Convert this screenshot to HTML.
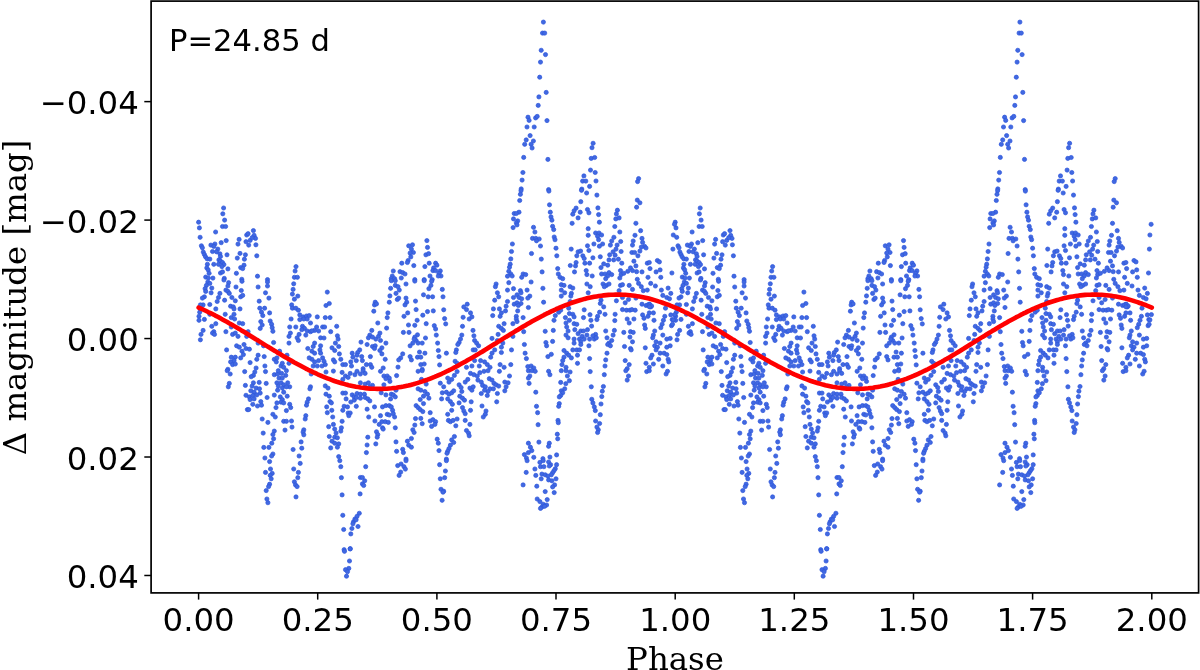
<!DOCTYPE html>
<html><head><meta charset="utf-8"><style>
html,body{margin:0;padding:0;background:#fff;}
body{width:1200px;height:670px;overflow:hidden;}
svg{display:block;}
</style></head><body>
<svg width="1200" height="670" viewBox="0 0 1200 670">
<rect width="1200" height="670" fill="#fff"/>
<g fill="#4169e1" stroke="#2d55db" stroke-width="0.7">
<circle cx="543.4" cy="22.1" r="2.10"/>
<circle cx="1019.9" cy="22.1" r="2.10"/>
<circle cx="542.5" cy="33.1" r="2.10"/>
<circle cx="1019.1" cy="33.1" r="2.10"/>
<circle cx="544.7" cy="33.1" r="2.10"/>
<circle cx="1021.3" cy="33.1" r="2.10"/>
<circle cx="541.2" cy="50.3" r="2.10"/>
<circle cx="1017.8" cy="50.3" r="2.10"/>
<circle cx="545.5" cy="54.6" r="2.10"/>
<circle cx="1022.1" cy="54.6" r="2.10"/>
<circle cx="540.5" cy="62.1" r="2.10"/>
<circle cx="1017.1" cy="62.1" r="2.10"/>
<circle cx="539.7" cy="77.2" r="2.10"/>
<circle cx="1016.3" cy="77.2" r="2.10"/>
<circle cx="546.2" cy="92.4" r="2.10"/>
<circle cx="1022.8" cy="92.4" r="2.10"/>
<circle cx="538.9" cy="96.9" r="2.10"/>
<circle cx="1015.5" cy="96.9" r="2.10"/>
<circle cx="538.2" cy="105.4" r="2.10"/>
<circle cx="1014.8" cy="105.4" r="2.10"/>
<circle cx="528.0" cy="117.2" r="2.10"/>
<circle cx="1004.6" cy="117.2" r="2.10"/>
<circle cx="529.1" cy="120.4" r="2.10"/>
<circle cx="1005.7" cy="120.4" r="2.10"/>
<circle cx="535.6" cy="117.9" r="2.10"/>
<circle cx="1012.1" cy="117.9" r="2.10"/>
<circle cx="537.2" cy="116.4" r="2.10"/>
<circle cx="1013.8" cy="116.4" r="2.10"/>
<circle cx="547.0" cy="120.6" r="2.10"/>
<circle cx="1023.6" cy="120.6" r="2.10"/>
<circle cx="527.0" cy="127.0" r="2.10"/>
<circle cx="1003.5" cy="127.0" r="2.10"/>
<circle cx="534.2" cy="127.0" r="2.10"/>
<circle cx="1010.8" cy="127.0" r="2.10"/>
<circle cx="530.1" cy="135.6" r="2.10"/>
<circle cx="1006.6" cy="135.6" r="2.10"/>
<circle cx="526.2" cy="139.9" r="2.10"/>
<circle cx="1002.7" cy="139.9" r="2.10"/>
<circle cx="533.4" cy="141.0" r="2.10"/>
<circle cx="1010.0" cy="141.0" r="2.10"/>
<circle cx="524.7" cy="144.3" r="2.10"/>
<circle cx="1001.3" cy="144.3" r="2.10"/>
<circle cx="531.1" cy="144.3" r="2.10"/>
<circle cx="1007.7" cy="144.3" r="2.10"/>
<circle cx="532.1" cy="148.0" r="2.10"/>
<circle cx="1008.6" cy="148.0" r="2.10"/>
<circle cx="523.7" cy="157.4" r="2.10"/>
<circle cx="1000.3" cy="157.4" r="2.10"/>
<circle cx="547.9" cy="159.4" r="2.10"/>
<circle cx="1024.5" cy="159.4" r="2.10"/>
<circle cx="522.9" cy="172.5" r="2.10"/>
<circle cx="999.5" cy="172.5" r="2.10"/>
<circle cx="522.1" cy="180.1" r="2.10"/>
<circle cx="998.7" cy="180.1" r="2.10"/>
<circle cx="521.2" cy="188.9" r="2.10"/>
<circle cx="997.8" cy="188.9" r="2.10"/>
<circle cx="548.6" cy="189.6" r="2.10"/>
<circle cx="1025.2" cy="189.6" r="2.10"/>
<circle cx="593.1" cy="143.3" r="2.10"/>
<circle cx="1069.6" cy="143.3" r="2.10"/>
<circle cx="592.0" cy="147.7" r="2.10"/>
<circle cx="1068.6" cy="147.7" r="2.10"/>
<circle cx="591.2" cy="158.4" r="2.10"/>
<circle cx="1067.8" cy="158.4" r="2.10"/>
<circle cx="594.7" cy="157.5" r="2.10"/>
<circle cx="1071.2" cy="157.5" r="2.10"/>
<circle cx="590.5" cy="170.1" r="2.10"/>
<circle cx="1067.1" cy="170.1" r="2.10"/>
<circle cx="595.2" cy="172.5" r="2.10"/>
<circle cx="1071.8" cy="172.5" r="2.10"/>
<circle cx="583.9" cy="175.9" r="2.10"/>
<circle cx="1060.5" cy="175.9" r="2.10"/>
<circle cx="582.6" cy="181.1" r="2.10"/>
<circle cx="1059.2" cy="181.1" r="2.10"/>
<circle cx="585.8" cy="181.1" r="2.10"/>
<circle cx="1062.4" cy="181.1" r="2.10"/>
<circle cx="596.0" cy="181.0" r="2.10"/>
<circle cx="1072.6" cy="181.0" r="2.10"/>
<circle cx="589.6" cy="186.4" r="2.10"/>
<circle cx="1066.1" cy="186.4" r="2.10"/>
<circle cx="581.8" cy="189.1" r="2.10"/>
<circle cx="1058.4" cy="189.1" r="2.10"/>
<circle cx="198.6" cy="222.2" r="2.10"/>
<circle cx="675.2" cy="222.2" r="2.10"/>
<circle cx="199.4" cy="227.9" r="2.10"/>
<circle cx="676.0" cy="227.9" r="2.10"/>
<circle cx="200.1" cy="237.3" r="2.10"/>
<circle cx="676.7" cy="237.3" r="2.10"/>
<circle cx="201.4" cy="245.8" r="2.10"/>
<circle cx="678.0" cy="245.8" r="2.10"/>
<circle cx="202.4" cy="247.8" r="2.10"/>
<circle cx="679.0" cy="247.8" r="2.10"/>
<circle cx="203.3" cy="252.1" r="2.10"/>
<circle cx="679.9" cy="252.1" r="2.10"/>
<circle cx="204.4" cy="254.5" r="2.10"/>
<circle cx="681.0" cy="254.5" r="2.10"/>
<circle cx="205.5" cy="256.8" r="2.10"/>
<circle cx="682.1" cy="256.8" r="2.10"/>
<circle cx="207.1" cy="258.8" r="2.10"/>
<circle cx="683.7" cy="258.8" r="2.10"/>
<circle cx="209.8" cy="259.1" r="2.10"/>
<circle cx="686.4" cy="259.1" r="2.10"/>
<circle cx="207.4" cy="264.3" r="2.10"/>
<circle cx="683.9" cy="264.3" r="2.10"/>
<circle cx="206.8" cy="267.9" r="2.10"/>
<circle cx="683.4" cy="267.9" r="2.10"/>
<circle cx="208.2" cy="269.9" r="2.10"/>
<circle cx="684.7" cy="269.9" r="2.10"/>
<circle cx="209.1" cy="273.3" r="2.10"/>
<circle cx="685.7" cy="273.3" r="2.10"/>
<circle cx="205.7" cy="277.1" r="2.10"/>
<circle cx="682.3" cy="277.1" r="2.10"/>
<circle cx="208.4" cy="278.0" r="2.10"/>
<circle cx="685.0" cy="278.0" r="2.10"/>
<circle cx="212.9" cy="278.1" r="2.10"/>
<circle cx="689.4" cy="278.1" r="2.10"/>
<circle cx="223.6" cy="208.0" r="2.10"/>
<circle cx="700.2" cy="208.0" r="2.10"/>
<circle cx="222.8" cy="213.8" r="2.10"/>
<circle cx="699.4" cy="213.8" r="2.10"/>
<circle cx="224.6" cy="220.1" r="2.10"/>
<circle cx="701.1" cy="220.1" r="2.10"/>
<circle cx="222.5" cy="226.5" r="2.10"/>
<circle cx="699.1" cy="226.5" r="2.10"/>
<circle cx="225.6" cy="226.5" r="2.10"/>
<circle cx="702.2" cy="226.5" r="2.10"/>
<circle cx="215.6" cy="232.0" r="2.10"/>
<circle cx="692.1" cy="232.0" r="2.10"/>
<circle cx="221.2" cy="242.7" r="2.10"/>
<circle cx="697.8" cy="242.7" r="2.10"/>
<circle cx="226.2" cy="240.6" r="2.10"/>
<circle cx="702.7" cy="240.6" r="2.10"/>
<circle cx="210.9" cy="245.1" r="2.10"/>
<circle cx="687.4" cy="245.1" r="2.10"/>
<circle cx="214.9" cy="244.0" r="2.10"/>
<circle cx="691.5" cy="244.0" r="2.10"/>
<circle cx="213.8" cy="246.4" r="2.10"/>
<circle cx="690.4" cy="246.4" r="2.10"/>
<circle cx="217.8" cy="249.1" r="2.10"/>
<circle cx="694.4" cy="249.1" r="2.10"/>
<circle cx="212.5" cy="251.5" r="2.10"/>
<circle cx="689.0" cy="251.5" r="2.10"/>
<circle cx="216.5" cy="251.8" r="2.10"/>
<circle cx="693.1" cy="251.8" r="2.10"/>
<circle cx="219.9" cy="253.8" r="2.10"/>
<circle cx="696.4" cy="253.8" r="2.10"/>
<circle cx="220.5" cy="256.5" r="2.10"/>
<circle cx="697.1" cy="256.5" r="2.10"/>
<circle cx="218.9" cy="259.9" r="2.10"/>
<circle cx="695.5" cy="259.9" r="2.10"/>
<circle cx="220.5" cy="261.2" r="2.10"/>
<circle cx="697.1" cy="261.2" r="2.10"/>
<circle cx="222.5" cy="262.5" r="2.10"/>
<circle cx="699.1" cy="262.5" r="2.10"/>
<circle cx="223.9" cy="264.6" r="2.10"/>
<circle cx="700.5" cy="264.6" r="2.10"/>
<circle cx="213.8" cy="264.3" r="2.10"/>
<circle cx="690.4" cy="264.3" r="2.10"/>
<circle cx="218.5" cy="264.3" r="2.10"/>
<circle cx="695.1" cy="264.3" r="2.10"/>
<circle cx="221.9" cy="266.6" r="2.10"/>
<circle cx="698.4" cy="266.6" r="2.10"/>
<circle cx="227.9" cy="268.9" r="2.10"/>
<circle cx="704.5" cy="268.9" r="2.10"/>
<circle cx="220.5" cy="273.0" r="2.10"/>
<circle cx="697.1" cy="273.0" r="2.10"/>
<circle cx="222.5" cy="271.9" r="2.10"/>
<circle cx="699.1" cy="271.9" r="2.10"/>
<circle cx="224.3" cy="278.4" r="2.10"/>
<circle cx="700.9" cy="278.4" r="2.10"/>
<circle cx="227.0" cy="254.8" r="2.10"/>
<circle cx="703.6" cy="254.8" r="2.10"/>
<circle cx="239.1" cy="239.4" r="2.10"/>
<circle cx="715.6" cy="239.4" r="2.10"/>
<circle cx="238.0" cy="244.1" r="2.10"/>
<circle cx="714.6" cy="244.1" r="2.10"/>
<circle cx="240.0" cy="253.4" r="2.10"/>
<circle cx="716.6" cy="253.4" r="2.10"/>
<circle cx="237.3" cy="258.1" r="2.10"/>
<circle cx="713.9" cy="258.1" r="2.10"/>
<circle cx="245.4" cy="254.8" r="2.10"/>
<circle cx="722.0" cy="254.8" r="2.10"/>
<circle cx="244.4" cy="259.2" r="2.10"/>
<circle cx="721.0" cy="259.2" r="2.10"/>
<circle cx="244.0" cy="265.2" r="2.10"/>
<circle cx="720.6" cy="265.2" r="2.10"/>
<circle cx="240.7" cy="267.6" r="2.10"/>
<circle cx="717.3" cy="267.6" r="2.10"/>
<circle cx="242.7" cy="268.6" r="2.10"/>
<circle cx="719.3" cy="268.6" r="2.10"/>
<circle cx="236.4" cy="273.3" r="2.10"/>
<circle cx="713.0" cy="273.3" r="2.10"/>
<circle cx="241.8" cy="279.3" r="2.10"/>
<circle cx="718.3" cy="279.3" r="2.10"/>
<circle cx="246.7" cy="235.0" r="2.10"/>
<circle cx="723.3" cy="235.0" r="2.10"/>
<circle cx="248.1" cy="233.7" r="2.10"/>
<circle cx="724.6" cy="233.7" r="2.10"/>
<circle cx="253.4" cy="230.6" r="2.10"/>
<circle cx="730.0" cy="230.6" r="2.10"/>
<circle cx="254.1" cy="235.4" r="2.10"/>
<circle cx="730.7" cy="235.4" r="2.10"/>
<circle cx="255.5" cy="238.4" r="2.10"/>
<circle cx="732.0" cy="238.4" r="2.10"/>
<circle cx="246.0" cy="241.7" r="2.10"/>
<circle cx="722.6" cy="241.7" r="2.10"/>
<circle cx="248.7" cy="245.1" r="2.10"/>
<circle cx="725.3" cy="245.1" r="2.10"/>
<circle cx="250.1" cy="240.4" r="2.10"/>
<circle cx="726.7" cy="240.4" r="2.10"/>
<circle cx="252.1" cy="237.7" r="2.10"/>
<circle cx="728.7" cy="237.7" r="2.10"/>
<circle cx="255.9" cy="244.8" r="2.10"/>
<circle cx="732.4" cy="244.8" r="2.10"/>
<circle cx="256.8" cy="255.8" r="2.10"/>
<circle cx="733.4" cy="255.8" r="2.10"/>
<circle cx="257.5" cy="276.2" r="2.10"/>
<circle cx="734.0" cy="276.2" r="2.10"/>
<circle cx="267.5" cy="279.6" r="2.10"/>
<circle cx="744.1" cy="279.6" r="2.10"/>
<circle cx="296.0" cy="266.6" r="2.10"/>
<circle cx="772.6" cy="266.6" r="2.10"/>
<circle cx="295.1" cy="271.0" r="2.10"/>
<circle cx="771.7" cy="271.0" r="2.10"/>
<circle cx="294.4" cy="277.3" r="2.10"/>
<circle cx="771.0" cy="277.3" r="2.10"/>
<circle cx="297.4" cy="277.3" r="2.10"/>
<circle cx="773.9" cy="277.3" r="2.10"/>
<circle cx="408.7" cy="245.8" r="2.10"/>
<circle cx="885.3" cy="245.8" r="2.10"/>
<circle cx="412.5" cy="244.8" r="2.10"/>
<circle cx="889.1" cy="244.8" r="2.10"/>
<circle cx="411.4" cy="249.1" r="2.10"/>
<circle cx="888.0" cy="249.1" r="2.10"/>
<circle cx="413.4" cy="252.5" r="2.10"/>
<circle cx="890.0" cy="252.5" r="2.10"/>
<circle cx="410.1" cy="253.1" r="2.10"/>
<circle cx="886.7" cy="253.1" r="2.10"/>
<circle cx="410.8" cy="256.9" r="2.10"/>
<circle cx="887.3" cy="256.9" r="2.10"/>
<circle cx="408.1" cy="260.5" r="2.10"/>
<circle cx="884.6" cy="260.5" r="2.10"/>
<circle cx="407.4" cy="262.5" r="2.10"/>
<circle cx="884.0" cy="262.5" r="2.10"/>
<circle cx="401.8" cy="263.2" r="2.10"/>
<circle cx="878.3" cy="263.2" r="2.10"/>
<circle cx="413.8" cy="265.6" r="2.10"/>
<circle cx="890.4" cy="265.6" r="2.10"/>
<circle cx="393.3" cy="271.0" r="2.10"/>
<circle cx="869.9" cy="271.0" r="2.10"/>
<circle cx="392.3" cy="276.0" r="2.10"/>
<circle cx="868.9" cy="276.0" r="2.10"/>
<circle cx="391.3" cy="278.7" r="2.10"/>
<circle cx="867.9" cy="278.7" r="2.10"/>
<circle cx="394.6" cy="278.7" r="2.10"/>
<circle cx="871.2" cy="278.7" r="2.10"/>
<circle cx="400.0" cy="271.7" r="2.10"/>
<circle cx="876.6" cy="271.7" r="2.10"/>
<circle cx="402.7" cy="272.6" r="2.10"/>
<circle cx="879.3" cy="272.6" r="2.10"/>
<circle cx="405.0" cy="274.0" r="2.10"/>
<circle cx="881.6" cy="274.0" r="2.10"/>
<circle cx="401.3" cy="278.0" r="2.10"/>
<circle cx="877.9" cy="278.0" r="2.10"/>
<circle cx="426.9" cy="240.6" r="2.10"/>
<circle cx="903.5" cy="240.6" r="2.10"/>
<circle cx="427.5" cy="247.4" r="2.10"/>
<circle cx="904.1" cy="247.4" r="2.10"/>
<circle cx="425.9" cy="254.8" r="2.10"/>
<circle cx="902.5" cy="254.8" r="2.10"/>
<circle cx="428.6" cy="253.7" r="2.10"/>
<circle cx="905.2" cy="253.7" r="2.10"/>
<circle cx="429.2" cy="263.2" r="2.10"/>
<circle cx="905.7" cy="263.2" r="2.10"/>
<circle cx="424.9" cy="266.6" r="2.10"/>
<circle cx="901.4" cy="266.6" r="2.10"/>
<circle cx="435.6" cy="263.2" r="2.10"/>
<circle cx="912.2" cy="263.2" r="2.10"/>
<circle cx="436.9" cy="265.2" r="2.10"/>
<circle cx="913.5" cy="265.2" r="2.10"/>
<circle cx="433.6" cy="267.9" r="2.10"/>
<circle cx="910.2" cy="267.9" r="2.10"/>
<circle cx="432.9" cy="270.6" r="2.10"/>
<circle cx="909.5" cy="270.6" r="2.10"/>
<circle cx="435.6" cy="270.6" r="2.10"/>
<circle cx="912.2" cy="270.6" r="2.10"/>
<circle cx="440.3" cy="270.9" r="2.10"/>
<circle cx="916.9" cy="270.9" r="2.10"/>
<circle cx="439.0" cy="273.3" r="2.10"/>
<circle cx="915.5" cy="273.3" r="2.10"/>
<circle cx="441.0" cy="276.0" r="2.10"/>
<circle cx="917.6" cy="276.0" r="2.10"/>
<circle cx="438.3" cy="276.0" r="2.10"/>
<circle cx="914.9" cy="276.0" r="2.10"/>
<circle cx="430.0" cy="276.0" r="2.10"/>
<circle cx="906.5" cy="276.0" r="2.10"/>
<circle cx="414.8" cy="279.6" r="2.10"/>
<circle cx="891.4" cy="279.6" r="2.10"/>
<circle cx="424.2" cy="279.6" r="2.10"/>
<circle cx="900.8" cy="279.6" r="2.10"/>
<circle cx="432.2" cy="279.6" r="2.10"/>
<circle cx="908.8" cy="279.6" r="2.10"/>
<circle cx="514.2" cy="213.5" r="2.10"/>
<circle cx="990.8" cy="213.5" r="2.10"/>
<circle cx="513.5" cy="218.9" r="2.10"/>
<circle cx="990.1" cy="218.9" r="2.10"/>
<circle cx="513.1" cy="227.6" r="2.10"/>
<circle cx="989.7" cy="227.6" r="2.10"/>
<circle cx="512.4" cy="244.0" r="2.10"/>
<circle cx="989.0" cy="244.0" r="2.10"/>
<circle cx="511.5" cy="251.5" r="2.10"/>
<circle cx="988.1" cy="251.5" r="2.10"/>
<circle cx="510.8" cy="258.9" r="2.10"/>
<circle cx="987.4" cy="258.9" r="2.10"/>
<circle cx="510.2" cy="264.2" r="2.10"/>
<circle cx="986.7" cy="264.2" r="2.10"/>
<circle cx="509.5" cy="267.2" r="2.10"/>
<circle cx="986.1" cy="267.2" r="2.10"/>
<circle cx="508.8" cy="271.3" r="2.10"/>
<circle cx="985.4" cy="271.3" r="2.10"/>
<circle cx="510.8" cy="274.0" r="2.10"/>
<circle cx="987.4" cy="274.0" r="2.10"/>
<circle cx="507.5" cy="276.2" r="2.10"/>
<circle cx="984.1" cy="276.2" r="2.10"/>
<circle cx="512.2" cy="276.0" r="2.10"/>
<circle cx="988.8" cy="276.0" r="2.10"/>
<circle cx="521.0" cy="190.7" r="2.10"/>
<circle cx="997.6" cy="190.7" r="2.10"/>
<circle cx="520.4" cy="194.3" r="2.10"/>
<circle cx="997.0" cy="194.3" r="2.10"/>
<circle cx="519.7" cy="200.5" r="2.10"/>
<circle cx="996.3" cy="200.5" r="2.10"/>
<circle cx="519.0" cy="212.2" r="2.10"/>
<circle cx="995.6" cy="212.2" r="2.10"/>
<circle cx="516.3" cy="213.5" r="2.10"/>
<circle cx="992.9" cy="213.5" r="2.10"/>
<circle cx="517.7" cy="220.9" r="2.10"/>
<circle cx="994.3" cy="220.9" r="2.10"/>
<circle cx="516.3" cy="222.9" r="2.10"/>
<circle cx="992.9" cy="222.9" r="2.10"/>
<circle cx="517.0" cy="224.9" r="2.10"/>
<circle cx="993.6" cy="224.9" r="2.10"/>
<circle cx="523.1" cy="274.0" r="2.10"/>
<circle cx="999.6" cy="274.0" r="2.10"/>
<circle cx="525.7" cy="274.6" r="2.10"/>
<circle cx="1002.3" cy="274.6" r="2.10"/>
<circle cx="521.7" cy="277.3" r="2.10"/>
<circle cx="998.3" cy="277.3" r="2.10"/>
<circle cx="533.5" cy="227.3" r="2.10"/>
<circle cx="1010.1" cy="227.3" r="2.10"/>
<circle cx="534.9" cy="232.0" r="2.10"/>
<circle cx="1011.5" cy="232.0" r="2.10"/>
<circle cx="532.5" cy="238.4" r="2.10"/>
<circle cx="1009.0" cy="238.4" r="2.10"/>
<circle cx="535.8" cy="238.4" r="2.10"/>
<circle cx="1012.4" cy="238.4" r="2.10"/>
<circle cx="539.2" cy="239.0" r="2.10"/>
<circle cx="1015.8" cy="239.0" r="2.10"/>
<circle cx="536.5" cy="240.8" r="2.10"/>
<circle cx="1013.1" cy="240.8" r="2.10"/>
<circle cx="540.5" cy="246.0" r="2.10"/>
<circle cx="1017.1" cy="246.0" r="2.10"/>
<circle cx="531.5" cy="253.5" r="2.10"/>
<circle cx="1008.1" cy="253.5" r="2.10"/>
<circle cx="541.3" cy="259.1" r="2.10"/>
<circle cx="1017.9" cy="259.1" r="2.10"/>
<circle cx="542.1" cy="271.9" r="2.10"/>
<circle cx="1018.7" cy="271.9" r="2.10"/>
<circle cx="548.9" cy="191.1" r="2.10"/>
<circle cx="1025.4" cy="191.1" r="2.10"/>
<circle cx="549.5" cy="204.8" r="2.10"/>
<circle cx="1026.1" cy="204.8" r="2.10"/>
<circle cx="550.3" cy="212.2" r="2.10"/>
<circle cx="1026.9" cy="212.2" r="2.10"/>
<circle cx="551.0" cy="216.9" r="2.10"/>
<circle cx="1027.6" cy="216.9" r="2.10"/>
<circle cx="551.9" cy="220.2" r="2.10"/>
<circle cx="1028.5" cy="220.2" r="2.10"/>
<circle cx="552.6" cy="226.3" r="2.10"/>
<circle cx="1029.2" cy="226.3" r="2.10"/>
<circle cx="553.7" cy="229.6" r="2.10"/>
<circle cx="1030.3" cy="229.6" r="2.10"/>
<circle cx="554.2" cy="237.0" r="2.10"/>
<circle cx="1030.8" cy="237.0" r="2.10"/>
<circle cx="555.0" cy="239.7" r="2.10"/>
<circle cx="1031.6" cy="239.7" r="2.10"/>
<circle cx="556.0" cy="248.2" r="2.10"/>
<circle cx="1032.6" cy="248.2" r="2.10"/>
<circle cx="556.8" cy="255.8" r="2.10"/>
<circle cx="1033.4" cy="255.8" r="2.10"/>
<circle cx="557.7" cy="268.6" r="2.10"/>
<circle cx="1034.3" cy="268.6" r="2.10"/>
<circle cx="558.3" cy="274.0" r="2.10"/>
<circle cx="1034.8" cy="274.0" r="2.10"/>
<circle cx="560.0" cy="277.3" r="2.10"/>
<circle cx="1036.6" cy="277.3" r="2.10"/>
<circle cx="562.7" cy="278.7" r="2.10"/>
<circle cx="1039.3" cy="278.7" r="2.10"/>
<circle cx="581.5" cy="190.3" r="2.10"/>
<circle cx="1058.1" cy="190.3" r="2.10"/>
<circle cx="586.6" cy="193.0" r="2.10"/>
<circle cx="1063.2" cy="193.0" r="2.10"/>
<circle cx="580.8" cy="201.7" r="2.10"/>
<circle cx="1057.4" cy="201.7" r="2.10"/>
<circle cx="576.1" cy="208.1" r="2.10"/>
<circle cx="1052.7" cy="208.1" r="2.10"/>
<circle cx="574.1" cy="210.8" r="2.10"/>
<circle cx="1050.7" cy="210.8" r="2.10"/>
<circle cx="572.8" cy="214.2" r="2.10"/>
<circle cx="1049.3" cy="214.2" r="2.10"/>
<circle cx="580.2" cy="212.2" r="2.10"/>
<circle cx="1056.7" cy="212.2" r="2.10"/>
<circle cx="578.1" cy="217.9" r="2.10"/>
<circle cx="1054.7" cy="217.9" r="2.10"/>
<circle cx="572.1" cy="223.3" r="2.10"/>
<circle cx="1048.7" cy="223.3" r="2.10"/>
<circle cx="587.5" cy="209.5" r="2.10"/>
<circle cx="1064.1" cy="209.5" r="2.10"/>
<circle cx="588.9" cy="212.8" r="2.10"/>
<circle cx="1065.5" cy="212.8" r="2.10"/>
<circle cx="588.2" cy="228.7" r="2.10"/>
<circle cx="1064.8" cy="228.7" r="2.10"/>
<circle cx="588.2" cy="235.3" r="2.10"/>
<circle cx="1064.8" cy="235.3" r="2.10"/>
<circle cx="587.5" cy="245.8" r="2.10"/>
<circle cx="1064.1" cy="245.8" r="2.10"/>
<circle cx="588.9" cy="250.5" r="2.10"/>
<circle cx="1065.5" cy="250.5" r="2.10"/>
<circle cx="571.2" cy="249.1" r="2.10"/>
<circle cx="1047.7" cy="249.1" r="2.10"/>
<circle cx="578.1" cy="251.8" r="2.10"/>
<circle cx="1054.7" cy="251.8" r="2.10"/>
<circle cx="580.6" cy="251.1" r="2.10"/>
<circle cx="1057.1" cy="251.1" r="2.10"/>
<circle cx="576.8" cy="255.8" r="2.10"/>
<circle cx="1053.4" cy="255.8" r="2.10"/>
<circle cx="582.8" cy="255.8" r="2.10"/>
<circle cx="1059.4" cy="255.8" r="2.10"/>
<circle cx="584.2" cy="258.5" r="2.10"/>
<circle cx="1060.8" cy="258.5" r="2.10"/>
<circle cx="592.9" cy="257.8" r="2.10"/>
<circle cx="1069.5" cy="257.8" r="2.10"/>
<circle cx="570.3" cy="265.5" r="2.10"/>
<circle cx="1046.9" cy="265.5" r="2.10"/>
<circle cx="576.1" cy="262.5" r="2.10"/>
<circle cx="1052.7" cy="262.5" r="2.10"/>
<circle cx="575.5" cy="265.9" r="2.10"/>
<circle cx="1052.0" cy="265.9" r="2.10"/>
<circle cx="584.9" cy="263.2" r="2.10"/>
<circle cx="1061.4" cy="263.2" r="2.10"/>
<circle cx="589.6" cy="263.2" r="2.10"/>
<circle cx="1066.1" cy="263.2" r="2.10"/>
<circle cx="574.5" cy="271.9" r="2.10"/>
<circle cx="1051.1" cy="271.9" r="2.10"/>
<circle cx="586.2" cy="270.6" r="2.10"/>
<circle cx="1062.8" cy="270.6" r="2.10"/>
<circle cx="586.9" cy="274.6" r="2.10"/>
<circle cx="1063.5" cy="274.6" r="2.10"/>
<circle cx="592.2" cy="276.0" r="2.10"/>
<circle cx="1068.8" cy="276.0" r="2.10"/>
<circle cx="596.9" cy="195.1" r="2.10"/>
<circle cx="1073.5" cy="195.1" r="2.10"/>
<circle cx="597.9" cy="207.9" r="2.10"/>
<circle cx="1074.5" cy="207.9" r="2.10"/>
<circle cx="598.6" cy="214.6" r="2.10"/>
<circle cx="1075.1" cy="214.6" r="2.10"/>
<circle cx="599.4" cy="222.2" r="2.10"/>
<circle cx="1075.9" cy="222.2" r="2.10"/>
<circle cx="595.6" cy="233.0" r="2.10"/>
<circle cx="1072.2" cy="233.0" r="2.10"/>
<circle cx="599.0" cy="233.0" r="2.10"/>
<circle cx="1075.5" cy="233.0" r="2.10"/>
<circle cx="601.6" cy="235.0" r="2.10"/>
<circle cx="1078.2" cy="235.0" r="2.10"/>
<circle cx="597.6" cy="236.3" r="2.10"/>
<circle cx="1074.2" cy="236.3" r="2.10"/>
<circle cx="598.6" cy="239.7" r="2.10"/>
<circle cx="1075.1" cy="239.7" r="2.10"/>
<circle cx="593.9" cy="244.0" r="2.10"/>
<circle cx="1070.4" cy="244.0" r="2.10"/>
<circle cx="602.6" cy="244.0" r="2.10"/>
<circle cx="1079.2" cy="244.0" r="2.10"/>
<circle cx="599.4" cy="246.2" r="2.10"/>
<circle cx="1075.9" cy="246.2" r="2.10"/>
<circle cx="600.3" cy="256.8" r="2.10"/>
<circle cx="1076.9" cy="256.8" r="2.10"/>
<circle cx="601.0" cy="267.6" r="2.10"/>
<circle cx="1077.6" cy="267.6" r="2.10"/>
<circle cx="603.7" cy="263.9" r="2.10"/>
<circle cx="1080.2" cy="263.9" r="2.10"/>
<circle cx="607.7" cy="265.2" r="2.10"/>
<circle cx="1084.3" cy="265.2" r="2.10"/>
<circle cx="601.6" cy="274.0" r="2.10"/>
<circle cx="1078.2" cy="274.0" r="2.10"/>
<circle cx="605.0" cy="274.0" r="2.10"/>
<circle cx="1081.6" cy="274.0" r="2.10"/>
<circle cx="609.0" cy="272.6" r="2.10"/>
<circle cx="1085.6" cy="272.6" r="2.10"/>
<circle cx="611.7" cy="274.6" r="2.10"/>
<circle cx="1088.3" cy="274.6" r="2.10"/>
<circle cx="607.7" cy="276.0" r="2.10"/>
<circle cx="1084.3" cy="276.0" r="2.10"/>
<circle cx="605.7" cy="278.7" r="2.10"/>
<circle cx="1082.3" cy="278.7" r="2.10"/>
<circle cx="617.4" cy="210.2" r="2.10"/>
<circle cx="1093.9" cy="210.2" r="2.10"/>
<circle cx="616.4" cy="213.9" r="2.10"/>
<circle cx="1093.0" cy="213.9" r="2.10"/>
<circle cx="615.8" cy="218.9" r="2.10"/>
<circle cx="1092.3" cy="218.9" r="2.10"/>
<circle cx="619.1" cy="217.9" r="2.10"/>
<circle cx="1095.7" cy="217.9" r="2.10"/>
<circle cx="614.8" cy="226.5" r="2.10"/>
<circle cx="1091.4" cy="226.5" r="2.10"/>
<circle cx="619.8" cy="232.0" r="2.10"/>
<circle cx="1096.4" cy="232.0" r="2.10"/>
<circle cx="613.9" cy="237.3" r="2.10"/>
<circle cx="1090.5" cy="237.3" r="2.10"/>
<circle cx="611.7" cy="241.0" r="2.10"/>
<circle cx="1088.3" cy="241.0" r="2.10"/>
<circle cx="610.4" cy="245.1" r="2.10"/>
<circle cx="1087.0" cy="245.1" r="2.10"/>
<circle cx="617.1" cy="245.1" r="2.10"/>
<circle cx="1093.7" cy="245.1" r="2.10"/>
<circle cx="616.0" cy="249.1" r="2.10"/>
<circle cx="1092.6" cy="249.1" r="2.10"/>
<circle cx="620.7" cy="241.5" r="2.10"/>
<circle cx="1097.3" cy="241.5" r="2.10"/>
<circle cx="609.7" cy="254.8" r="2.10"/>
<circle cx="1086.3" cy="254.8" r="2.10"/>
<circle cx="613.1" cy="251.8" r="2.10"/>
<circle cx="1089.6" cy="251.8" r="2.10"/>
<circle cx="621.1" cy="251.5" r="2.10"/>
<circle cx="1097.7" cy="251.5" r="2.10"/>
<circle cx="615.1" cy="255.2" r="2.10"/>
<circle cx="1091.7" cy="255.2" r="2.10"/>
<circle cx="613.7" cy="259.9" r="2.10"/>
<circle cx="1090.3" cy="259.9" r="2.10"/>
<circle cx="609.0" cy="259.9" r="2.10"/>
<circle cx="1085.6" cy="259.9" r="2.10"/>
<circle cx="618.4" cy="259.2" r="2.10"/>
<circle cx="1095.0" cy="259.2" r="2.10"/>
<circle cx="621.8" cy="263.2" r="2.10"/>
<circle cx="1098.4" cy="263.2" r="2.10"/>
<circle cx="620.5" cy="270.6" r="2.10"/>
<circle cx="1097.0" cy="270.6" r="2.10"/>
<circle cx="621.1" cy="274.6" r="2.10"/>
<circle cx="1097.7" cy="274.6" r="2.10"/>
<circle cx="623.8" cy="273.3" r="2.10"/>
<circle cx="1100.4" cy="273.3" r="2.10"/>
<circle cx="619.8" cy="278.0" r="2.10"/>
<circle cx="1096.4" cy="278.0" r="2.10"/>
<circle cx="637.3" cy="200.1" r="2.10"/>
<circle cx="1113.8" cy="200.1" r="2.10"/>
<circle cx="639.9" cy="202.8" r="2.10"/>
<circle cx="1116.5" cy="202.8" r="2.10"/>
<circle cx="636.6" cy="207.2" r="2.10"/>
<circle cx="1113.2" cy="207.2" r="2.10"/>
<circle cx="635.9" cy="223.3" r="2.10"/>
<circle cx="1112.5" cy="223.3" r="2.10"/>
<circle cx="640.6" cy="230.7" r="2.10"/>
<circle cx="1117.2" cy="230.7" r="2.10"/>
<circle cx="635.0" cy="235.3" r="2.10"/>
<circle cx="1111.5" cy="235.3" r="2.10"/>
<circle cx="633.2" cy="241.0" r="2.10"/>
<circle cx="1109.8" cy="241.0" r="2.10"/>
<circle cx="632.5" cy="245.1" r="2.10"/>
<circle cx="1109.1" cy="245.1" r="2.10"/>
<circle cx="642.0" cy="238.4" r="2.10"/>
<circle cx="1118.5" cy="238.4" r="2.10"/>
<circle cx="642.6" cy="242.4" r="2.10"/>
<circle cx="1119.2" cy="242.4" r="2.10"/>
<circle cx="644.6" cy="246.4" r="2.10"/>
<circle cx="1121.2" cy="246.4" r="2.10"/>
<circle cx="646.0" cy="248.0" r="2.10"/>
<circle cx="1122.6" cy="248.0" r="2.10"/>
<circle cx="641.3" cy="247.1" r="2.10"/>
<circle cx="1117.9" cy="247.1" r="2.10"/>
<circle cx="639.9" cy="251.1" r="2.10"/>
<circle cx="1116.5" cy="251.1" r="2.10"/>
<circle cx="631.9" cy="252.5" r="2.10"/>
<circle cx="1108.5" cy="252.5" r="2.10"/>
<circle cx="634.6" cy="252.5" r="2.10"/>
<circle cx="1111.1" cy="252.5" r="2.10"/>
<circle cx="637.9" cy="255.8" r="2.10"/>
<circle cx="1114.5" cy="255.8" r="2.10"/>
<circle cx="633.9" cy="261.2" r="2.10"/>
<circle cx="1110.5" cy="261.2" r="2.10"/>
<circle cx="635.9" cy="265.9" r="2.10"/>
<circle cx="1112.5" cy="265.9" r="2.10"/>
<circle cx="630.5" cy="267.9" r="2.10"/>
<circle cx="1107.1" cy="267.9" r="2.10"/>
<circle cx="627.8" cy="271.3" r="2.10"/>
<circle cx="1104.4" cy="271.3" r="2.10"/>
<circle cx="632.5" cy="270.6" r="2.10"/>
<circle cx="1109.1" cy="270.6" r="2.10"/>
<circle cx="636.6" cy="271.7" r="2.10"/>
<circle cx="1113.2" cy="271.7" r="2.10"/>
<circle cx="642.0" cy="271.9" r="2.10"/>
<circle cx="1118.5" cy="271.9" r="2.10"/>
<circle cx="647.3" cy="263.2" r="2.10"/>
<circle cx="1123.9" cy="263.2" r="2.10"/>
<circle cx="649.3" cy="262.5" r="2.10"/>
<circle cx="1125.9" cy="262.5" r="2.10"/>
<circle cx="650.0" cy="268.6" r="2.10"/>
<circle cx="1126.6" cy="268.6" r="2.10"/>
<circle cx="648.0" cy="277.3" r="2.10"/>
<circle cx="1124.6" cy="277.3" r="2.10"/>
<circle cx="637.3" cy="279.3" r="2.10"/>
<circle cx="1113.8" cy="279.3" r="2.10"/>
<circle cx="657.4" cy="260.5" r="2.10"/>
<circle cx="1134.0" cy="260.5" r="2.10"/>
<circle cx="659.4" cy="261.9" r="2.10"/>
<circle cx="1136.0" cy="261.9" r="2.10"/>
<circle cx="656.1" cy="271.9" r="2.10"/>
<circle cx="1132.6" cy="271.9" r="2.10"/>
<circle cx="660.1" cy="269.9" r="2.10"/>
<circle cx="1136.7" cy="269.9" r="2.10"/>
<circle cx="660.8" cy="277.3" r="2.10"/>
<circle cx="1137.3" cy="277.3" r="2.10"/>
<circle cx="671.9" cy="273.0" r="2.10"/>
<circle cx="1148.5" cy="273.0" r="2.10"/>
<circle cx="672.9" cy="249.1" r="2.10"/>
<circle cx="1149.4" cy="249.1" r="2.10"/>
<circle cx="207.8" cy="282.0" r="2.10"/>
<circle cx="684.3" cy="282.0" r="2.10"/>
<circle cx="209.8" cy="283.4" r="2.10"/>
<circle cx="686.4" cy="283.4" r="2.10"/>
<circle cx="206.4" cy="285.4" r="2.10"/>
<circle cx="683.0" cy="285.4" r="2.10"/>
<circle cx="205.1" cy="288.7" r="2.10"/>
<circle cx="681.7" cy="288.7" r="2.10"/>
<circle cx="205.7" cy="291.4" r="2.10"/>
<circle cx="682.3" cy="291.4" r="2.10"/>
<circle cx="211.8" cy="288.1" r="2.10"/>
<circle cx="688.4" cy="288.1" r="2.10"/>
<circle cx="211.1" cy="292.8" r="2.10"/>
<circle cx="687.7" cy="292.8" r="2.10"/>
<circle cx="204.4" cy="296.8" r="2.10"/>
<circle cx="681.0" cy="296.8" r="2.10"/>
<circle cx="202.4" cy="298.1" r="2.10"/>
<circle cx="679.0" cy="298.1" r="2.10"/>
<circle cx="203.1" cy="304.9" r="2.10"/>
<circle cx="679.6" cy="304.9" r="2.10"/>
<circle cx="200.4" cy="304.9" r="2.10"/>
<circle cx="677.0" cy="304.9" r="2.10"/>
<circle cx="209.8" cy="304.5" r="2.10"/>
<circle cx="686.4" cy="304.5" r="2.10"/>
<circle cx="199.7" cy="312.2" r="2.10"/>
<circle cx="676.3" cy="312.2" r="2.10"/>
<circle cx="199.0" cy="316.3" r="2.10"/>
<circle cx="675.6" cy="316.3" r="2.10"/>
<circle cx="199.0" cy="320.3" r="2.10"/>
<circle cx="675.6" cy="320.3" r="2.10"/>
<circle cx="204.4" cy="319.4" r="2.10"/>
<circle cx="681.0" cy="319.4" r="2.10"/>
<circle cx="209.8" cy="314.3" r="2.10"/>
<circle cx="686.4" cy="314.3" r="2.10"/>
<circle cx="203.1" cy="330.4" r="2.10"/>
<circle cx="679.6" cy="330.4" r="2.10"/>
<circle cx="201.0" cy="334.4" r="2.10"/>
<circle cx="677.6" cy="334.4" r="2.10"/>
<circle cx="200.4" cy="339.8" r="2.10"/>
<circle cx="677.0" cy="339.8" r="2.10"/>
<circle cx="211.8" cy="326.3" r="2.10"/>
<circle cx="688.4" cy="326.3" r="2.10"/>
<circle cx="215.8" cy="323.7" r="2.10"/>
<circle cx="692.4" cy="323.7" r="2.10"/>
<circle cx="213.8" cy="331.7" r="2.10"/>
<circle cx="690.4" cy="331.7" r="2.10"/>
<circle cx="212.5" cy="333.1" r="2.10"/>
<circle cx="689.0" cy="333.1" r="2.10"/>
<circle cx="214.5" cy="334.4" r="2.10"/>
<circle cx="691.1" cy="334.4" r="2.10"/>
<circle cx="223.9" cy="280.0" r="2.10"/>
<circle cx="700.5" cy="280.0" r="2.10"/>
<circle cx="228.6" cy="282.7" r="2.10"/>
<circle cx="705.2" cy="282.7" r="2.10"/>
<circle cx="227.9" cy="286.0" r="2.10"/>
<circle cx="704.5" cy="286.0" r="2.10"/>
<circle cx="225.9" cy="290.1" r="2.10"/>
<circle cx="702.5" cy="290.1" r="2.10"/>
<circle cx="227.9" cy="291.4" r="2.10"/>
<circle cx="704.5" cy="291.4" r="2.10"/>
<circle cx="229.3" cy="293.4" r="2.10"/>
<circle cx="705.8" cy="293.4" r="2.10"/>
<circle cx="231.9" cy="297.5" r="2.10"/>
<circle cx="708.5" cy="297.5" r="2.10"/>
<circle cx="235.3" cy="300.8" r="2.10"/>
<circle cx="711.9" cy="300.8" r="2.10"/>
<circle cx="219.9" cy="293.4" r="2.10"/>
<circle cx="696.4" cy="293.4" r="2.10"/>
<circle cx="218.5" cy="297.5" r="2.10"/>
<circle cx="695.1" cy="297.5" r="2.10"/>
<circle cx="217.2" cy="301.5" r="2.10"/>
<circle cx="693.7" cy="301.5" r="2.10"/>
<circle cx="224.6" cy="300.2" r="2.10"/>
<circle cx="701.1" cy="300.2" r="2.10"/>
<circle cx="236.0" cy="287.0" r="2.10"/>
<circle cx="712.6" cy="287.0" r="2.10"/>
<circle cx="241.3" cy="290.5" r="2.10"/>
<circle cx="717.9" cy="290.5" r="2.10"/>
<circle cx="242.0" cy="281.3" r="2.10"/>
<circle cx="718.6" cy="281.3" r="2.10"/>
<circle cx="240.7" cy="296.8" r="2.10"/>
<circle cx="717.3" cy="296.8" r="2.10"/>
<circle cx="242.7" cy="295.4" r="2.10"/>
<circle cx="719.3" cy="295.4" r="2.10"/>
<circle cx="230.6" cy="306.2" r="2.10"/>
<circle cx="707.2" cy="306.2" r="2.10"/>
<circle cx="233.3" cy="306.9" r="2.10"/>
<circle cx="709.9" cy="306.9" r="2.10"/>
<circle cx="234.0" cy="308.9" r="2.10"/>
<circle cx="710.5" cy="308.9" r="2.10"/>
<circle cx="215.8" cy="308.9" r="2.10"/>
<circle cx="692.4" cy="308.9" r="2.10"/>
<circle cx="240.0" cy="308.9" r="2.10"/>
<circle cx="716.6" cy="308.9" r="2.10"/>
<circle cx="225.2" cy="314.3" r="2.10"/>
<circle cx="701.8" cy="314.3" r="2.10"/>
<circle cx="234.0" cy="314.3" r="2.10"/>
<circle cx="710.5" cy="314.3" r="2.10"/>
<circle cx="231.3" cy="317.6" r="2.10"/>
<circle cx="707.9" cy="317.6" r="2.10"/>
<circle cx="234.6" cy="319.0" r="2.10"/>
<circle cx="711.2" cy="319.0" r="2.10"/>
<circle cx="239.3" cy="323.0" r="2.10"/>
<circle cx="715.9" cy="323.0" r="2.10"/>
<circle cx="242.7" cy="323.7" r="2.10"/>
<circle cx="719.3" cy="323.7" r="2.10"/>
<circle cx="225.9" cy="331.7" r="2.10"/>
<circle cx="702.5" cy="331.7" r="2.10"/>
<circle cx="232.6" cy="334.4" r="2.10"/>
<circle cx="709.2" cy="334.4" r="2.10"/>
<circle cx="235.3" cy="333.1" r="2.10"/>
<circle cx="711.9" cy="333.1" r="2.10"/>
<circle cx="238.0" cy="336.4" r="2.10"/>
<circle cx="714.6" cy="336.4" r="2.10"/>
<circle cx="246.7" cy="336.4" r="2.10"/>
<circle cx="723.3" cy="336.4" r="2.10"/>
<circle cx="248.1" cy="331.7" r="2.10"/>
<circle cx="724.6" cy="331.7" r="2.10"/>
<circle cx="231.3" cy="327.0" r="2.10"/>
<circle cx="707.9" cy="327.0" r="2.10"/>
<circle cx="226.6" cy="349.9" r="2.10"/>
<circle cx="703.2" cy="349.9" r="2.10"/>
<circle cx="236.6" cy="345.8" r="2.10"/>
<circle cx="713.2" cy="345.8" r="2.10"/>
<circle cx="239.3" cy="347.2" r="2.10"/>
<circle cx="715.9" cy="347.2" r="2.10"/>
<circle cx="244.0" cy="344.5" r="2.10"/>
<circle cx="720.6" cy="344.5" r="2.10"/>
<circle cx="242.0" cy="351.2" r="2.10"/>
<circle cx="718.6" cy="351.2" r="2.10"/>
<circle cx="246.0" cy="348.5" r="2.10"/>
<circle cx="722.6" cy="348.5" r="2.10"/>
<circle cx="249.4" cy="349.2" r="2.10"/>
<circle cx="726.0" cy="349.2" r="2.10"/>
<circle cx="243.4" cy="354.6" r="2.10"/>
<circle cx="719.9" cy="354.6" r="2.10"/>
<circle cx="240.7" cy="357.9" r="2.10"/>
<circle cx="717.3" cy="357.9" r="2.10"/>
<circle cx="231.3" cy="357.2" r="2.10"/>
<circle cx="707.9" cy="357.2" r="2.10"/>
<circle cx="235.3" cy="357.2" r="2.10"/>
<circle cx="711.9" cy="357.2" r="2.10"/>
<circle cx="234.0" cy="360.6" r="2.10"/>
<circle cx="710.5" cy="360.6" r="2.10"/>
<circle cx="230.6" cy="361.9" r="2.10"/>
<circle cx="707.2" cy="361.9" r="2.10"/>
<circle cx="232.6" cy="364.6" r="2.10"/>
<circle cx="709.2" cy="364.6" r="2.10"/>
<circle cx="235.3" cy="364.0" r="2.10"/>
<circle cx="711.9" cy="364.0" r="2.10"/>
<circle cx="227.9" cy="369.3" r="2.10"/>
<circle cx="704.5" cy="369.3" r="2.10"/>
<circle cx="258.1" cy="287.0" r="2.10"/>
<circle cx="734.7" cy="287.0" r="2.10"/>
<circle cx="265.5" cy="292.8" r="2.10"/>
<circle cx="742.1" cy="292.8" r="2.10"/>
<circle cx="267.5" cy="282.0" r="2.10"/>
<circle cx="744.1" cy="282.0" r="2.10"/>
<circle cx="267.5" cy="286.0" r="2.10"/>
<circle cx="744.1" cy="286.0" r="2.10"/>
<circle cx="268.9" cy="298.1" r="2.10"/>
<circle cx="745.5" cy="298.1" r="2.10"/>
<circle cx="259.2" cy="301.2" r="2.10"/>
<circle cx="735.8" cy="301.2" r="2.10"/>
<circle cx="259.8" cy="308.2" r="2.10"/>
<circle cx="736.3" cy="308.2" r="2.10"/>
<circle cx="264.6" cy="308.2" r="2.10"/>
<circle cx="741.2" cy="308.2" r="2.10"/>
<circle cx="261.5" cy="312.2" r="2.10"/>
<circle cx="738.1" cy="312.2" r="2.10"/>
<circle cx="262.8" cy="315.6" r="2.10"/>
<circle cx="739.4" cy="315.6" r="2.10"/>
<circle cx="269.6" cy="312.9" r="2.10"/>
<circle cx="746.1" cy="312.9" r="2.10"/>
<circle cx="260.8" cy="321.6" r="2.10"/>
<circle cx="737.4" cy="321.6" r="2.10"/>
<circle cx="262.2" cy="325.0" r="2.10"/>
<circle cx="738.8" cy="325.0" r="2.10"/>
<circle cx="260.2" cy="328.4" r="2.10"/>
<circle cx="736.7" cy="328.4" r="2.10"/>
<circle cx="270.2" cy="321.0" r="2.10"/>
<circle cx="746.8" cy="321.0" r="2.10"/>
<circle cx="271.6" cy="324.3" r="2.10"/>
<circle cx="748.2" cy="324.3" r="2.10"/>
<circle cx="272.2" cy="327.7" r="2.10"/>
<circle cx="748.8" cy="327.7" r="2.10"/>
<circle cx="272.9" cy="331.3" r="2.10"/>
<circle cx="749.5" cy="331.3" r="2.10"/>
<circle cx="273.6" cy="342.5" r="2.10"/>
<circle cx="750.2" cy="342.5" r="2.10"/>
<circle cx="258.1" cy="343.1" r="2.10"/>
<circle cx="734.7" cy="343.1" r="2.10"/>
<circle cx="263.5" cy="345.8" r="2.10"/>
<circle cx="740.1" cy="345.8" r="2.10"/>
<circle cx="258.1" cy="355.2" r="2.10"/>
<circle cx="734.7" cy="355.2" r="2.10"/>
<circle cx="256.8" cy="359.3" r="2.10"/>
<circle cx="733.4" cy="359.3" r="2.10"/>
<circle cx="264.2" cy="356.6" r="2.10"/>
<circle cx="740.8" cy="356.6" r="2.10"/>
<circle cx="250.1" cy="362.6" r="2.10"/>
<circle cx="726.7" cy="362.6" r="2.10"/>
<circle cx="264.9" cy="366.0" r="2.10"/>
<circle cx="741.4" cy="366.0" r="2.10"/>
<circle cx="256.1" cy="368.0" r="2.10"/>
<circle cx="732.7" cy="368.0" r="2.10"/>
<circle cx="274.3" cy="359.3" r="2.10"/>
<circle cx="750.8" cy="359.3" r="2.10"/>
<circle cx="276.9" cy="357.9" r="2.10"/>
<circle cx="753.5" cy="357.9" r="2.10"/>
<circle cx="279.6" cy="351.2" r="2.10"/>
<circle cx="756.2" cy="351.2" r="2.10"/>
<circle cx="276.3" cy="361.9" r="2.10"/>
<circle cx="752.9" cy="361.9" r="2.10"/>
<circle cx="281.0" cy="366.0" r="2.10"/>
<circle cx="757.6" cy="366.0" r="2.10"/>
<circle cx="282.3" cy="363.3" r="2.10"/>
<circle cx="758.9" cy="363.3" r="2.10"/>
<circle cx="287.0" cy="355.2" r="2.10"/>
<circle cx="763.6" cy="355.2" r="2.10"/>
<circle cx="289.0" cy="363.3" r="2.10"/>
<circle cx="765.6" cy="363.3" r="2.10"/>
<circle cx="283.7" cy="367.3" r="2.10"/>
<circle cx="760.2" cy="367.3" r="2.10"/>
<circle cx="293.7" cy="283.8" r="2.10"/>
<circle cx="770.3" cy="283.8" r="2.10"/>
<circle cx="293.1" cy="289.4" r="2.10"/>
<circle cx="769.6" cy="289.4" r="2.10"/>
<circle cx="292.4" cy="294.1" r="2.10"/>
<circle cx="769.0" cy="294.1" r="2.10"/>
<circle cx="297.8" cy="296.1" r="2.10"/>
<circle cx="774.4" cy="296.1" r="2.10"/>
<circle cx="294.4" cy="299.2" r="2.10"/>
<circle cx="771.0" cy="299.2" r="2.10"/>
<circle cx="291.7" cy="304.9" r="2.10"/>
<circle cx="768.3" cy="304.9" r="2.10"/>
<circle cx="292.4" cy="308.2" r="2.10"/>
<circle cx="769.0" cy="308.2" r="2.10"/>
<circle cx="295.8" cy="308.2" r="2.10"/>
<circle cx="772.3" cy="308.2" r="2.10"/>
<circle cx="298.4" cy="310.2" r="2.10"/>
<circle cx="775.0" cy="310.2" r="2.10"/>
<circle cx="299.8" cy="314.9" r="2.10"/>
<circle cx="776.4" cy="314.9" r="2.10"/>
<circle cx="303.1" cy="316.9" r="2.10"/>
<circle cx="779.7" cy="316.9" r="2.10"/>
<circle cx="306.5" cy="316.0" r="2.10"/>
<circle cx="783.1" cy="316.0" r="2.10"/>
<circle cx="309.2" cy="315.6" r="2.10"/>
<circle cx="785.8" cy="315.6" r="2.10"/>
<circle cx="299.8" cy="319.6" r="2.10"/>
<circle cx="776.4" cy="319.6" r="2.10"/>
<circle cx="303.8" cy="319.0" r="2.10"/>
<circle cx="780.4" cy="319.0" r="2.10"/>
<circle cx="307.2" cy="319.0" r="2.10"/>
<circle cx="783.8" cy="319.0" r="2.10"/>
<circle cx="310.5" cy="323.0" r="2.10"/>
<circle cx="787.1" cy="323.0" r="2.10"/>
<circle cx="291.1" cy="319.0" r="2.10"/>
<circle cx="767.6" cy="319.0" r="2.10"/>
<circle cx="289.7" cy="327.0" r="2.10"/>
<circle cx="766.3" cy="327.0" r="2.10"/>
<circle cx="295.8" cy="327.0" r="2.10"/>
<circle cx="772.3" cy="327.0" r="2.10"/>
<circle cx="302.5" cy="326.3" r="2.10"/>
<circle cx="779.1" cy="326.3" r="2.10"/>
<circle cx="304.5" cy="328.4" r="2.10"/>
<circle cx="781.1" cy="328.4" r="2.10"/>
<circle cx="301.8" cy="329.7" r="2.10"/>
<circle cx="778.4" cy="329.7" r="2.10"/>
<circle cx="307.2" cy="331.0" r="2.10"/>
<circle cx="783.8" cy="331.0" r="2.10"/>
<circle cx="290.4" cy="333.1" r="2.10"/>
<circle cx="767.0" cy="333.1" r="2.10"/>
<circle cx="289.0" cy="336.4" r="2.10"/>
<circle cx="765.6" cy="336.4" r="2.10"/>
<circle cx="299.1" cy="334.4" r="2.10"/>
<circle cx="775.7" cy="334.4" r="2.10"/>
<circle cx="297.1" cy="337.8" r="2.10"/>
<circle cx="773.7" cy="337.8" r="2.10"/>
<circle cx="298.4" cy="340.5" r="2.10"/>
<circle cx="775.0" cy="340.5" r="2.10"/>
<circle cx="305.8" cy="335.1" r="2.10"/>
<circle cx="782.4" cy="335.1" r="2.10"/>
<circle cx="289.0" cy="343.1" r="2.10"/>
<circle cx="765.6" cy="343.1" r="2.10"/>
<circle cx="310.5" cy="331.7" r="2.10"/>
<circle cx="787.1" cy="331.7" r="2.10"/>
<circle cx="314.6" cy="330.4" r="2.10"/>
<circle cx="791.1" cy="330.4" r="2.10"/>
<circle cx="316.6" cy="327.0" r="2.10"/>
<circle cx="793.2" cy="327.0" r="2.10"/>
<circle cx="311.9" cy="330.8" r="2.10"/>
<circle cx="788.5" cy="330.8" r="2.10"/>
<circle cx="327.3" cy="292.1" r="2.10"/>
<circle cx="803.9" cy="292.1" r="2.10"/>
<circle cx="329.3" cy="303.5" r="2.10"/>
<circle cx="805.9" cy="303.5" r="2.10"/>
<circle cx="326.0" cy="305.5" r="2.10"/>
<circle cx="802.6" cy="305.5" r="2.10"/>
<circle cx="317.3" cy="316.9" r="2.10"/>
<circle cx="793.8" cy="316.9" r="2.10"/>
<circle cx="325.3" cy="317.6" r="2.10"/>
<circle cx="801.9" cy="317.6" r="2.10"/>
<circle cx="330.0" cy="317.6" r="2.10"/>
<circle cx="806.6" cy="317.6" r="2.10"/>
<circle cx="322.6" cy="327.0" r="2.10"/>
<circle cx="799.2" cy="327.0" r="2.10"/>
<circle cx="324.6" cy="327.0" r="2.10"/>
<circle cx="801.2" cy="327.0" r="2.10"/>
<circle cx="318.6" cy="331.0" r="2.10"/>
<circle cx="795.2" cy="331.0" r="2.10"/>
<circle cx="330.7" cy="331.7" r="2.10"/>
<circle cx="807.3" cy="331.7" r="2.10"/>
<circle cx="336.7" cy="326.3" r="2.10"/>
<circle cx="813.3" cy="326.3" r="2.10"/>
<circle cx="337.4" cy="335.8" r="2.10"/>
<circle cx="814.0" cy="335.8" r="2.10"/>
<circle cx="338.1" cy="339.1" r="2.10"/>
<circle cx="814.7" cy="339.1" r="2.10"/>
<circle cx="320.6" cy="337.8" r="2.10"/>
<circle cx="797.2" cy="337.8" r="2.10"/>
<circle cx="324.0" cy="338.0" r="2.10"/>
<circle cx="800.5" cy="338.0" r="2.10"/>
<circle cx="314.6" cy="343.1" r="2.10"/>
<circle cx="791.1" cy="343.1" r="2.10"/>
<circle cx="313.2" cy="346.5" r="2.10"/>
<circle cx="789.8" cy="346.5" r="2.10"/>
<circle cx="320.6" cy="345.8" r="2.10"/>
<circle cx="797.2" cy="345.8" r="2.10"/>
<circle cx="335.4" cy="343.1" r="2.10"/>
<circle cx="812.0" cy="343.1" r="2.10"/>
<circle cx="338.7" cy="346.5" r="2.10"/>
<circle cx="815.3" cy="346.5" r="2.10"/>
<circle cx="332.0" cy="347.8" r="2.10"/>
<circle cx="808.6" cy="347.8" r="2.10"/>
<circle cx="334.7" cy="350.5" r="2.10"/>
<circle cx="811.3" cy="350.5" r="2.10"/>
<circle cx="307.8" cy="348.5" r="2.10"/>
<circle cx="784.4" cy="348.5" r="2.10"/>
<circle cx="311.9" cy="351.2" r="2.10"/>
<circle cx="788.5" cy="351.2" r="2.10"/>
<circle cx="314.6" cy="353.2" r="2.10"/>
<circle cx="791.1" cy="353.2" r="2.10"/>
<circle cx="319.9" cy="349.9" r="2.10"/>
<circle cx="796.5" cy="349.9" r="2.10"/>
<circle cx="320.6" cy="353.2" r="2.10"/>
<circle cx="797.2" cy="353.2" r="2.10"/>
<circle cx="322.6" cy="357.9" r="2.10"/>
<circle cx="799.2" cy="357.9" r="2.10"/>
<circle cx="311.9" cy="359.3" r="2.10"/>
<circle cx="788.5" cy="359.3" r="2.10"/>
<circle cx="309.2" cy="357.9" r="2.10"/>
<circle cx="785.8" cy="357.9" r="2.10"/>
<circle cx="314.6" cy="361.9" r="2.10"/>
<circle cx="791.1" cy="361.9" r="2.10"/>
<circle cx="318.6" cy="360.6" r="2.10"/>
<circle cx="795.2" cy="360.6" r="2.10"/>
<circle cx="324.0" cy="361.3" r="2.10"/>
<circle cx="800.5" cy="361.3" r="2.10"/>
<circle cx="325.3" cy="364.6" r="2.10"/>
<circle cx="801.9" cy="364.6" r="2.10"/>
<circle cx="313.2" cy="366.0" r="2.10"/>
<circle cx="789.8" cy="366.0" r="2.10"/>
<circle cx="317.3" cy="366.0" r="2.10"/>
<circle cx="793.8" cy="366.0" r="2.10"/>
<circle cx="322.0" cy="366.0" r="2.10"/>
<circle cx="798.5" cy="366.0" r="2.10"/>
<circle cx="339.4" cy="353.9" r="2.10"/>
<circle cx="816.0" cy="353.9" r="2.10"/>
<circle cx="340.8" cy="359.3" r="2.10"/>
<circle cx="817.3" cy="359.3" r="2.10"/>
<circle cx="333.4" cy="359.9" r="2.10"/>
<circle cx="810.0" cy="359.9" r="2.10"/>
<circle cx="334.7" cy="361.9" r="2.10"/>
<circle cx="811.3" cy="361.9" r="2.10"/>
<circle cx="342.8" cy="364.6" r="2.10"/>
<circle cx="819.4" cy="364.6" r="2.10"/>
<circle cx="345.5" cy="364.6" r="2.10"/>
<circle cx="822.0" cy="364.6" r="2.10"/>
<circle cx="350.8" cy="361.9" r="2.10"/>
<circle cx="827.4" cy="361.9" r="2.10"/>
<circle cx="352.2" cy="353.2" r="2.10"/>
<circle cx="828.8" cy="353.2" r="2.10"/>
<circle cx="352.9" cy="357.2" r="2.10"/>
<circle cx="829.4" cy="357.2" r="2.10"/>
<circle cx="351.5" cy="366.0" r="2.10"/>
<circle cx="828.1" cy="366.0" r="2.10"/>
<circle cx="375.2" cy="302.2" r="2.10"/>
<circle cx="851.7" cy="302.2" r="2.10"/>
<circle cx="374.5" cy="304.9" r="2.10"/>
<circle cx="851.1" cy="304.9" r="2.10"/>
<circle cx="376.5" cy="303.9" r="2.10"/>
<circle cx="853.1" cy="303.9" r="2.10"/>
<circle cx="373.8" cy="311.2" r="2.10"/>
<circle cx="850.4" cy="311.2" r="2.10"/>
<circle cx="377.8" cy="323.0" r="2.10"/>
<circle cx="854.4" cy="323.0" r="2.10"/>
<circle cx="371.8" cy="330.4" r="2.10"/>
<circle cx="848.4" cy="330.4" r="2.10"/>
<circle cx="369.8" cy="335.1" r="2.10"/>
<circle cx="846.4" cy="335.1" r="2.10"/>
<circle cx="368.4" cy="337.8" r="2.10"/>
<circle cx="845.0" cy="337.8" r="2.10"/>
<circle cx="372.5" cy="337.1" r="2.10"/>
<circle cx="849.0" cy="337.1" r="2.10"/>
<circle cx="375.8" cy="339.1" r="2.10"/>
<circle cx="852.4" cy="339.1" r="2.10"/>
<circle cx="378.5" cy="336.4" r="2.10"/>
<circle cx="855.1" cy="336.4" r="2.10"/>
<circle cx="379.9" cy="333.1" r="2.10"/>
<circle cx="856.4" cy="333.1" r="2.10"/>
<circle cx="380.5" cy="340.5" r="2.10"/>
<circle cx="857.1" cy="340.5" r="2.10"/>
<circle cx="361.0" cy="342.1" r="2.10"/>
<circle cx="837.6" cy="342.1" r="2.10"/>
<circle cx="367.1" cy="344.5" r="2.10"/>
<circle cx="843.7" cy="344.5" r="2.10"/>
<circle cx="372.5" cy="346.5" r="2.10"/>
<circle cx="849.0" cy="346.5" r="2.10"/>
<circle cx="375.2" cy="345.8" r="2.10"/>
<circle cx="851.7" cy="345.8" r="2.10"/>
<circle cx="374.5" cy="348.5" r="2.10"/>
<circle cx="851.1" cy="348.5" r="2.10"/>
<circle cx="381.9" cy="347.8" r="2.10"/>
<circle cx="858.4" cy="347.8" r="2.10"/>
<circle cx="379.9" cy="350.5" r="2.10"/>
<circle cx="856.4" cy="350.5" r="2.10"/>
<circle cx="385.9" cy="343.1" r="2.10"/>
<circle cx="862.5" cy="343.1" r="2.10"/>
<circle cx="359.7" cy="349.9" r="2.10"/>
<circle cx="836.3" cy="349.9" r="2.10"/>
<circle cx="357.7" cy="352.5" r="2.10"/>
<circle cx="834.3" cy="352.5" r="2.10"/>
<circle cx="357.0" cy="355.2" r="2.10"/>
<circle cx="833.6" cy="355.2" r="2.10"/>
<circle cx="361.7" cy="356.6" r="2.10"/>
<circle cx="838.3" cy="356.6" r="2.10"/>
<circle cx="362.4" cy="360.6" r="2.10"/>
<circle cx="839.0" cy="360.6" r="2.10"/>
<circle cx="356.3" cy="360.6" r="2.10"/>
<circle cx="832.9" cy="360.6" r="2.10"/>
<circle cx="370.4" cy="356.6" r="2.10"/>
<circle cx="847.0" cy="356.6" r="2.10"/>
<circle cx="381.9" cy="353.9" r="2.10"/>
<circle cx="858.4" cy="353.9" r="2.10"/>
<circle cx="385.2" cy="359.3" r="2.10"/>
<circle cx="861.8" cy="359.3" r="2.10"/>
<circle cx="366.4" cy="364.6" r="2.10"/>
<circle cx="843.0" cy="364.6" r="2.10"/>
<circle cx="370.4" cy="364.6" r="2.10"/>
<circle cx="847.0" cy="364.6" r="2.10"/>
<circle cx="371.8" cy="367.3" r="2.10"/>
<circle cx="848.4" cy="367.3" r="2.10"/>
<circle cx="363.1" cy="368.7" r="2.10"/>
<circle cx="839.6" cy="368.7" r="2.10"/>
<circle cx="383.2" cy="368.0" r="2.10"/>
<circle cx="859.8" cy="368.0" r="2.10"/>
<circle cx="386.6" cy="328.1" r="2.10"/>
<circle cx="863.2" cy="328.1" r="2.10"/>
<circle cx="387.9" cy="312.9" r="2.10"/>
<circle cx="864.5" cy="312.9" r="2.10"/>
<circle cx="387.2" cy="317.6" r="2.10"/>
<circle cx="863.8" cy="317.6" r="2.10"/>
<circle cx="389.3" cy="302.2" r="2.10"/>
<circle cx="865.8" cy="302.2" r="2.10"/>
<circle cx="389.9" cy="295.9" r="2.10"/>
<circle cx="866.5" cy="295.9" r="2.10"/>
<circle cx="390.6" cy="288.3" r="2.10"/>
<circle cx="867.2" cy="288.3" r="2.10"/>
<circle cx="391.3" cy="280.7" r="2.10"/>
<circle cx="867.9" cy="280.7" r="2.10"/>
<circle cx="395.3" cy="280.7" r="2.10"/>
<circle cx="871.9" cy="280.7" r="2.10"/>
<circle cx="395.3" cy="285.4" r="2.10"/>
<circle cx="871.9" cy="285.4" r="2.10"/>
<circle cx="398.0" cy="286.7" r="2.10"/>
<circle cx="874.6" cy="286.7" r="2.10"/>
<circle cx="399.3" cy="290.1" r="2.10"/>
<circle cx="875.9" cy="290.1" r="2.10"/>
<circle cx="396.0" cy="293.4" r="2.10"/>
<circle cx="872.6" cy="293.4" r="2.10"/>
<circle cx="397.3" cy="299.5" r="2.10"/>
<circle cx="873.9" cy="299.5" r="2.10"/>
<circle cx="398.7" cy="298.1" r="2.10"/>
<circle cx="875.2" cy="298.1" r="2.10"/>
<circle cx="406.0" cy="284.0" r="2.10"/>
<circle cx="882.6" cy="284.0" r="2.10"/>
<circle cx="406.0" cy="298.1" r="2.10"/>
<circle cx="882.6" cy="298.1" r="2.10"/>
<circle cx="406.7" cy="302.2" r="2.10"/>
<circle cx="883.3" cy="302.2" r="2.10"/>
<circle cx="405.0" cy="304.9" r="2.10"/>
<circle cx="881.6" cy="304.9" r="2.10"/>
<circle cx="404.0" cy="316.3" r="2.10"/>
<circle cx="880.6" cy="316.3" r="2.10"/>
<circle cx="407.7" cy="312.9" r="2.10"/>
<circle cx="884.2" cy="312.9" r="2.10"/>
<circle cx="408.5" cy="325.0" r="2.10"/>
<circle cx="885.0" cy="325.0" r="2.10"/>
<circle cx="403.4" cy="332.4" r="2.10"/>
<circle cx="879.9" cy="332.4" r="2.10"/>
<circle cx="409.0" cy="332.4" r="2.10"/>
<circle cx="885.6" cy="332.4" r="2.10"/>
<circle cx="414.8" cy="325.3" r="2.10"/>
<circle cx="891.4" cy="325.3" r="2.10"/>
<circle cx="417.1" cy="320.3" r="2.10"/>
<circle cx="893.6" cy="320.3" r="2.10"/>
<circle cx="416.1" cy="309.6" r="2.10"/>
<circle cx="892.7" cy="309.6" r="2.10"/>
<circle cx="415.5" cy="301.1" r="2.10"/>
<circle cx="892.0" cy="301.1" r="2.10"/>
<circle cx="414.8" cy="281.1" r="2.10"/>
<circle cx="891.4" cy="281.1" r="2.10"/>
<circle cx="417.5" cy="334.8" r="2.10"/>
<circle cx="894.0" cy="334.8" r="2.10"/>
<circle cx="414.8" cy="337.1" r="2.10"/>
<circle cx="891.4" cy="337.1" r="2.10"/>
<circle cx="416.1" cy="340.5" r="2.10"/>
<circle cx="892.7" cy="340.5" r="2.10"/>
<circle cx="414.1" cy="339.1" r="2.10"/>
<circle cx="890.7" cy="339.1" r="2.10"/>
<circle cx="412.8" cy="343.1" r="2.10"/>
<circle cx="889.3" cy="343.1" r="2.10"/>
<circle cx="410.1" cy="345.8" r="2.10"/>
<circle cx="886.7" cy="345.8" r="2.10"/>
<circle cx="418.1" cy="343.1" r="2.10"/>
<circle cx="894.7" cy="343.1" r="2.10"/>
<circle cx="422.2" cy="343.1" r="2.10"/>
<circle cx="898.8" cy="343.1" r="2.10"/>
<circle cx="425.5" cy="338.0" r="2.10"/>
<circle cx="902.1" cy="338.0" r="2.10"/>
<circle cx="402.7" cy="353.9" r="2.10"/>
<circle cx="879.3" cy="353.9" r="2.10"/>
<circle cx="400.7" cy="357.9" r="2.10"/>
<circle cx="877.3" cy="357.9" r="2.10"/>
<circle cx="398.7" cy="359.9" r="2.10"/>
<circle cx="875.2" cy="359.9" r="2.10"/>
<circle cx="410.1" cy="356.6" r="2.10"/>
<circle cx="886.7" cy="356.6" r="2.10"/>
<circle cx="411.4" cy="359.9" r="2.10"/>
<circle cx="888.0" cy="359.9" r="2.10"/>
<circle cx="417.5" cy="357.2" r="2.10"/>
<circle cx="894.0" cy="357.2" r="2.10"/>
<circle cx="420.8" cy="357.2" r="2.10"/>
<circle cx="897.4" cy="357.2" r="2.10"/>
<circle cx="419.5" cy="352.1" r="2.10"/>
<circle cx="896.1" cy="352.1" r="2.10"/>
<circle cx="424.9" cy="353.2" r="2.10"/>
<circle cx="901.4" cy="353.2" r="2.10"/>
<circle cx="420.8" cy="364.6" r="2.10"/>
<circle cx="897.4" cy="364.6" r="2.10"/>
<circle cx="424.2" cy="364.0" r="2.10"/>
<circle cx="900.8" cy="364.0" r="2.10"/>
<circle cx="398.0" cy="367.1" r="2.10"/>
<circle cx="874.6" cy="367.1" r="2.10"/>
<circle cx="422.2" cy="369.3" r="2.10"/>
<circle cx="898.8" cy="369.3" r="2.10"/>
<circle cx="424.2" cy="280.7" r="2.10"/>
<circle cx="900.8" cy="280.7" r="2.10"/>
<circle cx="431.6" cy="281.3" r="2.10"/>
<circle cx="908.2" cy="281.3" r="2.10"/>
<circle cx="430.9" cy="285.4" r="2.10"/>
<circle cx="907.5" cy="285.4" r="2.10"/>
<circle cx="428.9" cy="288.7" r="2.10"/>
<circle cx="905.5" cy="288.7" r="2.10"/>
<circle cx="423.5" cy="294.8" r="2.10"/>
<circle cx="900.1" cy="294.8" r="2.10"/>
<circle cx="428.2" cy="296.8" r="2.10"/>
<circle cx="904.8" cy="296.8" r="2.10"/>
<circle cx="432.6" cy="296.8" r="2.10"/>
<circle cx="909.2" cy="296.8" r="2.10"/>
<circle cx="422.8" cy="315.2" r="2.10"/>
<circle cx="899.4" cy="315.2" r="2.10"/>
<circle cx="427.5" cy="311.6" r="2.10"/>
<circle cx="904.1" cy="311.6" r="2.10"/>
<circle cx="433.3" cy="310.9" r="2.10"/>
<circle cx="909.9" cy="310.9" r="2.10"/>
<circle cx="426.2" cy="323.7" r="2.10"/>
<circle cx="902.8" cy="323.7" r="2.10"/>
<circle cx="434.3" cy="325.7" r="2.10"/>
<circle cx="910.8" cy="325.7" r="2.10"/>
<circle cx="435.6" cy="329.0" r="2.10"/>
<circle cx="912.2" cy="329.0" r="2.10"/>
<circle cx="436.3" cy="335.1" r="2.10"/>
<circle cx="912.9" cy="335.1" r="2.10"/>
<circle cx="437.6" cy="343.1" r="2.10"/>
<circle cx="914.2" cy="343.1" r="2.10"/>
<circle cx="438.3" cy="350.5" r="2.10"/>
<circle cx="914.9" cy="350.5" r="2.10"/>
<circle cx="439.0" cy="356.6" r="2.10"/>
<circle cx="915.5" cy="356.6" r="2.10"/>
<circle cx="439.6" cy="364.9" r="2.10"/>
<circle cx="916.2" cy="364.9" r="2.10"/>
<circle cx="442.3" cy="289.4" r="2.10"/>
<circle cx="918.9" cy="289.4" r="2.10"/>
<circle cx="443.0" cy="296.8" r="2.10"/>
<circle cx="919.6" cy="296.8" r="2.10"/>
<circle cx="443.7" cy="309.8" r="2.10"/>
<circle cx="920.2" cy="309.8" r="2.10"/>
<circle cx="444.6" cy="318.6" r="2.10"/>
<circle cx="921.2" cy="318.6" r="2.10"/>
<circle cx="445.7" cy="323.9" r="2.10"/>
<circle cx="922.3" cy="323.9" r="2.10"/>
<circle cx="446.4" cy="353.2" r="2.10"/>
<circle cx="922.9" cy="353.2" r="2.10"/>
<circle cx="467.2" cy="304.2" r="2.10"/>
<circle cx="943.8" cy="304.2" r="2.10"/>
<circle cx="463.8" cy="306.9" r="2.10"/>
<circle cx="940.4" cy="306.9" r="2.10"/>
<circle cx="466.5" cy="309.6" r="2.10"/>
<circle cx="943.1" cy="309.6" r="2.10"/>
<circle cx="470.5" cy="312.9" r="2.10"/>
<circle cx="947.1" cy="312.9" r="2.10"/>
<circle cx="471.9" cy="316.9" r="2.10"/>
<circle cx="948.5" cy="316.9" r="2.10"/>
<circle cx="469.2" cy="319.0" r="2.10"/>
<circle cx="945.8" cy="319.0" r="2.10"/>
<circle cx="463.1" cy="317.3" r="2.10"/>
<circle cx="939.7" cy="317.3" r="2.10"/>
<circle cx="462.5" cy="326.3" r="2.10"/>
<circle cx="939.1" cy="326.3" r="2.10"/>
<circle cx="461.8" cy="335.1" r="2.10"/>
<circle cx="938.4" cy="335.1" r="2.10"/>
<circle cx="460.5" cy="339.1" r="2.10"/>
<circle cx="937.0" cy="339.1" r="2.10"/>
<circle cx="459.1" cy="342.5" r="2.10"/>
<circle cx="935.7" cy="342.5" r="2.10"/>
<circle cx="457.8" cy="344.5" r="2.10"/>
<circle cx="934.4" cy="344.5" r="2.10"/>
<circle cx="456.4" cy="349.9" r="2.10"/>
<circle cx="933.0" cy="349.9" r="2.10"/>
<circle cx="455.8" cy="352.5" r="2.10"/>
<circle cx="932.3" cy="352.5" r="2.10"/>
<circle cx="455.1" cy="361.3" r="2.10"/>
<circle cx="931.7" cy="361.3" r="2.10"/>
<circle cx="457.1" cy="363.3" r="2.10"/>
<circle cx="933.7" cy="363.3" r="2.10"/>
<circle cx="473.0" cy="330.4" r="2.10"/>
<circle cx="949.5" cy="330.4" r="2.10"/>
<circle cx="473.9" cy="335.8" r="2.10"/>
<circle cx="950.5" cy="335.8" r="2.10"/>
<circle cx="474.6" cy="340.5" r="2.10"/>
<circle cx="951.1" cy="340.5" r="2.10"/>
<circle cx="476.6" cy="343.1" r="2.10"/>
<circle cx="953.2" cy="343.1" r="2.10"/>
<circle cx="478.6" cy="345.8" r="2.10"/>
<circle cx="955.2" cy="345.8" r="2.10"/>
<circle cx="473.2" cy="349.9" r="2.10"/>
<circle cx="949.8" cy="349.9" r="2.10"/>
<circle cx="475.2" cy="349.9" r="2.10"/>
<circle cx="951.8" cy="349.9" r="2.10"/>
<circle cx="474.6" cy="360.6" r="2.10"/>
<circle cx="951.1" cy="360.6" r="2.10"/>
<circle cx="471.9" cy="366.0" r="2.10"/>
<circle cx="948.5" cy="366.0" r="2.10"/>
<circle cx="480.6" cy="360.6" r="2.10"/>
<circle cx="957.2" cy="360.6" r="2.10"/>
<circle cx="479.3" cy="366.0" r="2.10"/>
<circle cx="955.8" cy="366.0" r="2.10"/>
<circle cx="484.6" cy="361.9" r="2.10"/>
<circle cx="961.2" cy="361.9" r="2.10"/>
<circle cx="487.3" cy="364.6" r="2.10"/>
<circle cx="963.9" cy="364.6" r="2.10"/>
<circle cx="490.0" cy="367.3" r="2.10"/>
<circle cx="966.6" cy="367.3" r="2.10"/>
<circle cx="466.5" cy="367.3" r="2.10"/>
<circle cx="943.1" cy="367.3" r="2.10"/>
<circle cx="496.1" cy="284.0" r="2.10"/>
<circle cx="972.6" cy="284.0" r="2.10"/>
<circle cx="495.4" cy="286.7" r="2.10"/>
<circle cx="972.0" cy="286.7" r="2.10"/>
<circle cx="497.4" cy="292.8" r="2.10"/>
<circle cx="974.0" cy="292.8" r="2.10"/>
<circle cx="498.7" cy="296.8" r="2.10"/>
<circle cx="975.3" cy="296.8" r="2.10"/>
<circle cx="494.7" cy="300.2" r="2.10"/>
<circle cx="971.3" cy="300.2" r="2.10"/>
<circle cx="493.4" cy="308.9" r="2.10"/>
<circle cx="970.0" cy="308.9" r="2.10"/>
<circle cx="499.4" cy="308.9" r="2.10"/>
<circle cx="976.0" cy="308.9" r="2.10"/>
<circle cx="492.7" cy="315.6" r="2.10"/>
<circle cx="969.3" cy="315.6" r="2.10"/>
<circle cx="500.1" cy="316.3" r="2.10"/>
<circle cx="976.7" cy="316.3" r="2.10"/>
<circle cx="501.4" cy="312.9" r="2.10"/>
<circle cx="978.0" cy="312.9" r="2.10"/>
<circle cx="505.5" cy="310.9" r="2.10"/>
<circle cx="982.0" cy="310.9" r="2.10"/>
<circle cx="506.1" cy="306.2" r="2.10"/>
<circle cx="982.7" cy="306.2" r="2.10"/>
<circle cx="507.5" cy="301.5" r="2.10"/>
<circle cx="984.1" cy="301.5" r="2.10"/>
<circle cx="507.5" cy="290.1" r="2.10"/>
<circle cx="984.1" cy="290.1" r="2.10"/>
<circle cx="508.8" cy="282.7" r="2.10"/>
<circle cx="985.4" cy="282.7" r="2.10"/>
<circle cx="513.5" cy="288.7" r="2.10"/>
<circle cx="990.1" cy="288.7" r="2.10"/>
<circle cx="513.5" cy="297.5" r="2.10"/>
<circle cx="990.1" cy="297.5" r="2.10"/>
<circle cx="514.2" cy="304.2" r="2.10"/>
<circle cx="990.8" cy="304.2" r="2.10"/>
<circle cx="512.9" cy="323.7" r="2.10"/>
<circle cx="989.4" cy="323.7" r="2.10"/>
<circle cx="504.1" cy="323.7" r="2.10"/>
<circle cx="980.7" cy="323.7" r="2.10"/>
<circle cx="498.7" cy="326.3" r="2.10"/>
<circle cx="975.3" cy="326.3" r="2.10"/>
<circle cx="501.4" cy="328.4" r="2.10"/>
<circle cx="978.0" cy="328.4" r="2.10"/>
<circle cx="503.4" cy="330.4" r="2.10"/>
<circle cx="980.0" cy="330.4" r="2.10"/>
<circle cx="498.1" cy="334.4" r="2.10"/>
<circle cx="974.7" cy="334.4" r="2.10"/>
<circle cx="492.0" cy="338.4" r="2.10"/>
<circle cx="968.6" cy="338.4" r="2.10"/>
<circle cx="497.4" cy="340.5" r="2.10"/>
<circle cx="974.0" cy="340.5" r="2.10"/>
<circle cx="502.8" cy="343.1" r="2.10"/>
<circle cx="979.4" cy="343.1" r="2.10"/>
<circle cx="501.4" cy="347.2" r="2.10"/>
<circle cx="978.0" cy="347.2" r="2.10"/>
<circle cx="511.5" cy="349.9" r="2.10"/>
<circle cx="988.1" cy="349.9" r="2.10"/>
<circle cx="512.9" cy="336.4" r="2.10"/>
<circle cx="989.4" cy="336.4" r="2.10"/>
<circle cx="494.7" cy="349.9" r="2.10"/>
<circle cx="971.3" cy="349.9" r="2.10"/>
<circle cx="492.0" cy="353.2" r="2.10"/>
<circle cx="968.6" cy="353.2" r="2.10"/>
<circle cx="490.7" cy="357.2" r="2.10"/>
<circle cx="967.3" cy="357.2" r="2.10"/>
<circle cx="501.4" cy="352.5" r="2.10"/>
<circle cx="978.0" cy="352.5" r="2.10"/>
<circle cx="500.1" cy="364.6" r="2.10"/>
<circle cx="976.7" cy="364.6" r="2.10"/>
<circle cx="504.1" cy="367.3" r="2.10"/>
<circle cx="980.7" cy="367.3" r="2.10"/>
<circle cx="510.8" cy="364.6" r="2.10"/>
<circle cx="987.4" cy="364.6" r="2.10"/>
<circle cx="520.4" cy="290.7" r="2.10"/>
<circle cx="997.0" cy="290.7" r="2.10"/>
<circle cx="521.0" cy="292.8" r="2.10"/>
<circle cx="997.6" cy="292.8" r="2.10"/>
<circle cx="517.0" cy="294.8" r="2.10"/>
<circle cx="993.6" cy="294.8" r="2.10"/>
<circle cx="519.0" cy="297.5" r="2.10"/>
<circle cx="995.6" cy="297.5" r="2.10"/>
<circle cx="521.7" cy="298.8" r="2.10"/>
<circle cx="998.3" cy="298.8" r="2.10"/>
<circle cx="517.0" cy="302.8" r="2.10"/>
<circle cx="993.6" cy="302.8" r="2.10"/>
<circle cx="521.0" cy="303.5" r="2.10"/>
<circle cx="997.6" cy="303.5" r="2.10"/>
<circle cx="518.4" cy="305.5" r="2.10"/>
<circle cx="994.9" cy="305.5" r="2.10"/>
<circle cx="517.7" cy="310.9" r="2.10"/>
<circle cx="994.3" cy="310.9" r="2.10"/>
<circle cx="516.3" cy="316.3" r="2.10"/>
<circle cx="992.9" cy="316.3" r="2.10"/>
<circle cx="516.3" cy="319.0" r="2.10"/>
<circle cx="992.9" cy="319.0" r="2.10"/>
<circle cx="517.0" cy="321.6" r="2.10"/>
<circle cx="993.6" cy="321.6" r="2.10"/>
<circle cx="523.1" cy="317.6" r="2.10"/>
<circle cx="999.6" cy="317.6" r="2.10"/>
<circle cx="527.1" cy="290.1" r="2.10"/>
<circle cx="1003.7" cy="290.1" r="2.10"/>
<circle cx="529.8" cy="296.1" r="2.10"/>
<circle cx="1006.4" cy="296.1" r="2.10"/>
<circle cx="527.8" cy="298.1" r="2.10"/>
<circle cx="1004.3" cy="298.1" r="2.10"/>
<circle cx="528.4" cy="307.5" r="2.10"/>
<circle cx="1005.0" cy="307.5" r="2.10"/>
<circle cx="523.7" cy="331.7" r="2.10"/>
<circle cx="1000.3" cy="331.7" r="2.10"/>
<circle cx="524.4" cy="344.5" r="2.10"/>
<circle cx="1001.0" cy="344.5" r="2.10"/>
<circle cx="525.1" cy="353.2" r="2.10"/>
<circle cx="1001.7" cy="353.2" r="2.10"/>
<circle cx="526.4" cy="358.6" r="2.10"/>
<circle cx="1003.0" cy="358.6" r="2.10"/>
<circle cx="527.8" cy="366.6" r="2.10"/>
<circle cx="1004.3" cy="366.6" r="2.10"/>
<circle cx="531.1" cy="366.0" r="2.10"/>
<circle cx="1007.7" cy="366.0" r="2.10"/>
<circle cx="533.8" cy="368.0" r="2.10"/>
<circle cx="1010.4" cy="368.0" r="2.10"/>
<circle cx="531.1" cy="282.0" r="2.10"/>
<circle cx="1007.7" cy="282.0" r="2.10"/>
<circle cx="542.9" cy="288.3" r="2.10"/>
<circle cx="1019.5" cy="288.3" r="2.10"/>
<circle cx="543.6" cy="302.2" r="2.10"/>
<circle cx="1020.2" cy="302.2" r="2.10"/>
<circle cx="545.2" cy="331.3" r="2.10"/>
<circle cx="1021.8" cy="331.3" r="2.10"/>
<circle cx="553.3" cy="330.4" r="2.10"/>
<circle cx="1029.9" cy="330.4" r="2.10"/>
<circle cx="545.9" cy="342.5" r="2.10"/>
<circle cx="1022.5" cy="342.5" r="2.10"/>
<circle cx="546.6" cy="345.8" r="2.10"/>
<circle cx="1023.2" cy="345.8" r="2.10"/>
<circle cx="552.6" cy="341.4" r="2.10"/>
<circle cx="1029.2" cy="341.4" r="2.10"/>
<circle cx="547.9" cy="356.6" r="2.10"/>
<circle cx="1024.5" cy="356.6" r="2.10"/>
<circle cx="551.3" cy="354.3" r="2.10"/>
<circle cx="1027.9" cy="354.3" r="2.10"/>
<circle cx="555.3" cy="315.6" r="2.10"/>
<circle cx="1031.9" cy="315.6" r="2.10"/>
<circle cx="554.0" cy="320.3" r="2.10"/>
<circle cx="1030.5" cy="320.3" r="2.10"/>
<circle cx="558.7" cy="312.2" r="2.10"/>
<circle cx="1035.2" cy="312.2" r="2.10"/>
<circle cx="560.7" cy="310.2" r="2.10"/>
<circle cx="1037.3" cy="310.2" r="2.10"/>
<circle cx="561.3" cy="284.7" r="2.10"/>
<circle cx="1037.9" cy="284.7" r="2.10"/>
<circle cx="564.0" cy="285.4" r="2.10"/>
<circle cx="1040.6" cy="285.4" r="2.10"/>
<circle cx="561.3" cy="290.1" r="2.10"/>
<circle cx="1037.9" cy="290.1" r="2.10"/>
<circle cx="561.3" cy="296.1" r="2.10"/>
<circle cx="1037.9" cy="296.1" r="2.10"/>
<circle cx="564.7" cy="292.8" r="2.10"/>
<circle cx="1041.3" cy="292.8" r="2.10"/>
<circle cx="570.1" cy="286.7" r="2.10"/>
<circle cx="1046.7" cy="286.7" r="2.10"/>
<circle cx="572.8" cy="288.1" r="2.10"/>
<circle cx="1049.3" cy="288.1" r="2.10"/>
<circle cx="571.4" cy="293.4" r="2.10"/>
<circle cx="1048.0" cy="293.4" r="2.10"/>
<circle cx="570.8" cy="296.1" r="2.10"/>
<circle cx="1047.3" cy="296.1" r="2.10"/>
<circle cx="570.1" cy="301.5" r="2.10"/>
<circle cx="1046.7" cy="301.5" r="2.10"/>
<circle cx="568.7" cy="308.2" r="2.10"/>
<circle cx="1045.3" cy="308.2" r="2.10"/>
<circle cx="569.4" cy="313.6" r="2.10"/>
<circle cx="1046.0" cy="313.6" r="2.10"/>
<circle cx="572.8" cy="314.3" r="2.10"/>
<circle cx="1049.3" cy="314.3" r="2.10"/>
<circle cx="565.4" cy="317.6" r="2.10"/>
<circle cx="1042.0" cy="317.6" r="2.10"/>
<circle cx="574.1" cy="316.9" r="2.10"/>
<circle cx="1050.7" cy="316.9" r="2.10"/>
<circle cx="569.4" cy="320.3" r="2.10"/>
<circle cx="1046.0" cy="320.3" r="2.10"/>
<circle cx="566.0" cy="323.0" r="2.10"/>
<circle cx="1042.6" cy="323.0" r="2.10"/>
<circle cx="566.7" cy="327.0" r="2.10"/>
<circle cx="1043.3" cy="327.0" r="2.10"/>
<circle cx="568.1" cy="331.0" r="2.10"/>
<circle cx="1044.6" cy="331.0" r="2.10"/>
<circle cx="566.0" cy="335.1" r="2.10"/>
<circle cx="1042.6" cy="335.1" r="2.10"/>
<circle cx="568.1" cy="337.8" r="2.10"/>
<circle cx="1044.6" cy="337.8" r="2.10"/>
<circle cx="574.1" cy="323.7" r="2.10"/>
<circle cx="1050.7" cy="323.7" r="2.10"/>
<circle cx="576.8" cy="324.3" r="2.10"/>
<circle cx="1053.4" cy="324.3" r="2.10"/>
<circle cx="574.8" cy="329.7" r="2.10"/>
<circle cx="1051.4" cy="329.7" r="2.10"/>
<circle cx="578.1" cy="333.7" r="2.10"/>
<circle cx="1054.7" cy="333.7" r="2.10"/>
<circle cx="580.8" cy="331.0" r="2.10"/>
<circle cx="1057.4" cy="331.0" r="2.10"/>
<circle cx="583.5" cy="331.0" r="2.10"/>
<circle cx="1060.1" cy="331.0" r="2.10"/>
<circle cx="587.5" cy="329.7" r="2.10"/>
<circle cx="1064.1" cy="329.7" r="2.10"/>
<circle cx="582.2" cy="336.4" r="2.10"/>
<circle cx="1058.8" cy="336.4" r="2.10"/>
<circle cx="579.5" cy="339.1" r="2.10"/>
<circle cx="1056.1" cy="339.1" r="2.10"/>
<circle cx="580.8" cy="341.8" r="2.10"/>
<circle cx="1057.4" cy="341.8" r="2.10"/>
<circle cx="584.2" cy="339.1" r="2.10"/>
<circle cx="1060.8" cy="339.1" r="2.10"/>
<circle cx="586.9" cy="335.1" r="2.10"/>
<circle cx="1063.5" cy="335.1" r="2.10"/>
<circle cx="574.1" cy="339.1" r="2.10"/>
<circle cx="1050.7" cy="339.1" r="2.10"/>
<circle cx="574.1" cy="343.1" r="2.10"/>
<circle cx="1050.7" cy="343.1" r="2.10"/>
<circle cx="580.8" cy="344.5" r="2.10"/>
<circle cx="1057.4" cy="344.5" r="2.10"/>
<circle cx="588.9" cy="345.8" r="2.10"/>
<circle cx="1065.5" cy="345.8" r="2.10"/>
<circle cx="564.0" cy="350.5" r="2.10"/>
<circle cx="1040.6" cy="350.5" r="2.10"/>
<circle cx="572.8" cy="349.9" r="2.10"/>
<circle cx="1049.3" cy="349.9" r="2.10"/>
<circle cx="576.8" cy="349.9" r="2.10"/>
<circle cx="1053.4" cy="349.9" r="2.10"/>
<circle cx="579.5" cy="349.9" r="2.10"/>
<circle cx="1056.1" cy="349.9" r="2.10"/>
<circle cx="566.7" cy="353.2" r="2.10"/>
<circle cx="1043.3" cy="353.2" r="2.10"/>
<circle cx="568.7" cy="355.2" r="2.10"/>
<circle cx="1045.3" cy="355.2" r="2.10"/>
<circle cx="577.5" cy="355.2" r="2.10"/>
<circle cx="1054.0" cy="355.2" r="2.10"/>
<circle cx="564.0" cy="357.2" r="2.10"/>
<circle cx="1040.6" cy="357.2" r="2.10"/>
<circle cx="562.7" cy="360.6" r="2.10"/>
<circle cx="1039.3" cy="360.6" r="2.10"/>
<circle cx="571.4" cy="357.9" r="2.10"/>
<circle cx="1048.0" cy="357.9" r="2.10"/>
<circle cx="562.0" cy="364.6" r="2.10"/>
<circle cx="1038.6" cy="364.6" r="2.10"/>
<circle cx="566.0" cy="367.3" r="2.10"/>
<circle cx="1042.6" cy="367.3" r="2.10"/>
<circle cx="577.5" cy="363.3" r="2.10"/>
<circle cx="1054.0" cy="363.3" r="2.10"/>
<circle cx="586.9" cy="284.0" r="2.10"/>
<circle cx="1063.5" cy="284.0" r="2.10"/>
<circle cx="588.2" cy="292.8" r="2.10"/>
<circle cx="1064.8" cy="292.8" r="2.10"/>
<circle cx="590.2" cy="286.7" r="2.10"/>
<circle cx="1066.8" cy="286.7" r="2.10"/>
<circle cx="584.2" cy="309.8" r="2.10"/>
<circle cx="1060.8" cy="309.8" r="2.10"/>
<circle cx="583.5" cy="317.6" r="2.10"/>
<circle cx="1060.1" cy="317.6" r="2.10"/>
<circle cx="590.0" cy="314.7" r="2.10"/>
<circle cx="1066.5" cy="314.7" r="2.10"/>
<circle cx="590.9" cy="320.3" r="2.10"/>
<circle cx="1067.5" cy="320.3" r="2.10"/>
<circle cx="591.6" cy="326.1" r="2.10"/>
<circle cx="1068.2" cy="326.1" r="2.10"/>
<circle cx="589.6" cy="339.1" r="2.10"/>
<circle cx="1066.1" cy="339.1" r="2.10"/>
<circle cx="603.0" cy="284.0" r="2.10"/>
<circle cx="1079.6" cy="284.0" r="2.10"/>
<circle cx="606.4" cy="285.4" r="2.10"/>
<circle cx="1082.9" cy="285.4" r="2.10"/>
<circle cx="609.0" cy="284.0" r="2.10"/>
<circle cx="1085.6" cy="284.0" r="2.10"/>
<circle cx="604.3" cy="286.7" r="2.10"/>
<circle cx="1080.9" cy="286.7" r="2.10"/>
<circle cx="601.0" cy="300.2" r="2.10"/>
<circle cx="1077.6" cy="300.2" r="2.10"/>
<circle cx="600.3" cy="303.5" r="2.10"/>
<circle cx="1076.9" cy="303.5" r="2.10"/>
<circle cx="603.7" cy="306.9" r="2.10"/>
<circle cx="1080.2" cy="306.9" r="2.10"/>
<circle cx="599.6" cy="312.2" r="2.10"/>
<circle cx="1076.2" cy="312.2" r="2.10"/>
<circle cx="597.6" cy="316.3" r="2.10"/>
<circle cx="1074.2" cy="316.3" r="2.10"/>
<circle cx="596.9" cy="319.6" r="2.10"/>
<circle cx="1073.5" cy="319.6" r="2.10"/>
<circle cx="605.0" cy="314.3" r="2.10"/>
<circle cx="1081.6" cy="314.3" r="2.10"/>
<circle cx="595.6" cy="334.4" r="2.10"/>
<circle cx="1072.2" cy="334.4" r="2.10"/>
<circle cx="592.9" cy="335.8" r="2.10"/>
<circle cx="1069.5" cy="335.8" r="2.10"/>
<circle cx="594.3" cy="339.1" r="2.10"/>
<circle cx="1070.8" cy="339.1" r="2.10"/>
<circle cx="596.3" cy="337.8" r="2.10"/>
<circle cx="1072.9" cy="337.8" r="2.10"/>
<circle cx="605.7" cy="331.0" r="2.10"/>
<circle cx="1082.3" cy="331.0" r="2.10"/>
<circle cx="607.0" cy="337.8" r="2.10"/>
<circle cx="1083.6" cy="337.8" r="2.10"/>
<circle cx="609.0" cy="343.1" r="2.10"/>
<circle cx="1085.6" cy="343.1" r="2.10"/>
<circle cx="607.7" cy="344.5" r="2.10"/>
<circle cx="1084.3" cy="344.5" r="2.10"/>
<circle cx="610.4" cy="345.8" r="2.10"/>
<circle cx="1087.0" cy="345.8" r="2.10"/>
<circle cx="611.7" cy="340.5" r="2.10"/>
<circle cx="1088.3" cy="340.5" r="2.10"/>
<circle cx="613.1" cy="335.1" r="2.10"/>
<circle cx="1089.6" cy="335.1" r="2.10"/>
<circle cx="614.4" cy="330.4" r="2.10"/>
<circle cx="1091.0" cy="330.4" r="2.10"/>
<circle cx="615.1" cy="314.3" r="2.10"/>
<circle cx="1091.7" cy="314.3" r="2.10"/>
<circle cx="614.8" cy="320.6" r="2.10"/>
<circle cx="1091.4" cy="320.6" r="2.10"/>
<circle cx="616.4" cy="300.8" r="2.10"/>
<circle cx="1093.0" cy="300.8" r="2.10"/>
<circle cx="607.0" cy="353.2" r="2.10"/>
<circle cx="1083.6" cy="353.2" r="2.10"/>
<circle cx="605.7" cy="359.9" r="2.10"/>
<circle cx="1082.3" cy="359.9" r="2.10"/>
<circle cx="605.0" cy="366.0" r="2.10"/>
<circle cx="1081.6" cy="366.0" r="2.10"/>
<circle cx="589.6" cy="358.6" r="2.10"/>
<circle cx="1066.1" cy="358.6" r="2.10"/>
<circle cx="620.5" cy="285.4" r="2.10"/>
<circle cx="1097.0" cy="285.4" r="2.10"/>
<circle cx="622.5" cy="284.7" r="2.10"/>
<circle cx="1099.1" cy="284.7" r="2.10"/>
<circle cx="619.1" cy="290.7" r="2.10"/>
<circle cx="1095.7" cy="290.7" r="2.10"/>
<circle cx="629.2" cy="285.4" r="2.10"/>
<circle cx="1105.8" cy="285.4" r="2.10"/>
<circle cx="632.5" cy="289.4" r="2.10"/>
<circle cx="1109.1" cy="289.4" r="2.10"/>
<circle cx="622.5" cy="297.5" r="2.10"/>
<circle cx="1099.1" cy="297.5" r="2.10"/>
<circle cx="625.2" cy="302.8" r="2.10"/>
<circle cx="1101.7" cy="302.8" r="2.10"/>
<circle cx="622.5" cy="309.6" r="2.10"/>
<circle cx="1099.1" cy="309.6" r="2.10"/>
<circle cx="626.5" cy="310.2" r="2.10"/>
<circle cx="1103.1" cy="310.2" r="2.10"/>
<circle cx="629.9" cy="310.2" r="2.10"/>
<circle cx="1106.4" cy="310.2" r="2.10"/>
<circle cx="631.9" cy="309.6" r="2.10"/>
<circle cx="1108.5" cy="309.6" r="2.10"/>
<circle cx="635.2" cy="310.2" r="2.10"/>
<circle cx="1111.8" cy="310.2" r="2.10"/>
<circle cx="628.5" cy="299.5" r="2.10"/>
<circle cx="1105.1" cy="299.5" r="2.10"/>
<circle cx="635.9" cy="298.1" r="2.10"/>
<circle cx="1112.5" cy="298.1" r="2.10"/>
<circle cx="627.2" cy="319.0" r="2.10"/>
<circle cx="1103.8" cy="319.0" r="2.10"/>
<circle cx="629.2" cy="323.0" r="2.10"/>
<circle cx="1105.8" cy="323.0" r="2.10"/>
<circle cx="633.9" cy="319.0" r="2.10"/>
<circle cx="1110.5" cy="319.0" r="2.10"/>
<circle cx="623.8" cy="332.4" r="2.10"/>
<circle cx="1100.4" cy="332.4" r="2.10"/>
<circle cx="630.5" cy="331.7" r="2.10"/>
<circle cx="1107.1" cy="331.7" r="2.10"/>
<circle cx="633.2" cy="332.4" r="2.10"/>
<circle cx="1109.8" cy="332.4" r="2.10"/>
<circle cx="629.9" cy="337.1" r="2.10"/>
<circle cx="1106.4" cy="337.1" r="2.10"/>
<circle cx="632.5" cy="341.8" r="2.10"/>
<circle cx="1109.1" cy="341.8" r="2.10"/>
<circle cx="624.5" cy="346.5" r="2.10"/>
<circle cx="1101.1" cy="346.5" r="2.10"/>
<circle cx="630.5" cy="348.5" r="2.10"/>
<circle cx="1107.1" cy="348.5" r="2.10"/>
<circle cx="631.2" cy="349.9" r="2.10"/>
<circle cx="1107.8" cy="349.9" r="2.10"/>
<circle cx="625.2" cy="360.6" r="2.10"/>
<circle cx="1101.7" cy="360.6" r="2.10"/>
<circle cx="629.2" cy="364.6" r="2.10"/>
<circle cx="1105.8" cy="364.6" r="2.10"/>
<circle cx="627.2" cy="368.7" r="2.10"/>
<circle cx="1103.8" cy="368.7" r="2.10"/>
<circle cx="638.6" cy="283.4" r="2.10"/>
<circle cx="1115.2" cy="283.4" r="2.10"/>
<circle cx="641.3" cy="286.7" r="2.10"/>
<circle cx="1117.9" cy="286.7" r="2.10"/>
<circle cx="643.3" cy="290.7" r="2.10"/>
<circle cx="1119.9" cy="290.7" r="2.10"/>
<circle cx="642.0" cy="304.2" r="2.10"/>
<circle cx="1118.5" cy="304.2" r="2.10"/>
<circle cx="647.3" cy="290.1" r="2.10"/>
<circle cx="1123.9" cy="290.1" r="2.10"/>
<circle cx="650.7" cy="283.4" r="2.10"/>
<circle cx="1127.3" cy="283.4" r="2.10"/>
<circle cx="646.0" cy="305.5" r="2.10"/>
<circle cx="1122.6" cy="305.5" r="2.10"/>
<circle cx="649.3" cy="304.2" r="2.10"/>
<circle cx="1125.9" cy="304.2" r="2.10"/>
<circle cx="650.7" cy="306.9" r="2.10"/>
<circle cx="1127.3" cy="306.9" r="2.10"/>
<circle cx="642.6" cy="314.9" r="2.10"/>
<circle cx="1119.2" cy="314.9" r="2.10"/>
<circle cx="644.0" cy="318.3" r="2.10"/>
<circle cx="1120.5" cy="318.3" r="2.10"/>
<circle cx="648.0" cy="316.3" r="2.10"/>
<circle cx="1124.6" cy="316.3" r="2.10"/>
<circle cx="649.3" cy="312.9" r="2.10"/>
<circle cx="1125.9" cy="312.9" r="2.10"/>
<circle cx="653.4" cy="312.9" r="2.10"/>
<circle cx="1130.0" cy="312.9" r="2.10"/>
<circle cx="654.0" cy="320.3" r="2.10"/>
<circle cx="1130.6" cy="320.3" r="2.10"/>
<circle cx="644.6" cy="325.0" r="2.10"/>
<circle cx="1121.2" cy="325.0" r="2.10"/>
<circle cx="645.3" cy="328.4" r="2.10"/>
<circle cx="1121.9" cy="328.4" r="2.10"/>
<circle cx="645.3" cy="347.8" r="2.10"/>
<circle cx="1121.9" cy="347.8" r="2.10"/>
<circle cx="646.0" cy="363.3" r="2.10"/>
<circle cx="1122.6" cy="363.3" r="2.10"/>
<circle cx="649.3" cy="367.3" r="2.10"/>
<circle cx="1125.9" cy="367.3" r="2.10"/>
<circle cx="655.4" cy="286.0" r="2.10"/>
<circle cx="1132.0" cy="286.0" r="2.10"/>
<circle cx="661.4" cy="290.1" r="2.10"/>
<circle cx="1138.0" cy="290.1" r="2.10"/>
<circle cx="668.1" cy="288.1" r="2.10"/>
<circle cx="1144.7" cy="288.1" r="2.10"/>
<circle cx="670.8" cy="293.4" r="2.10"/>
<circle cx="1147.4" cy="293.4" r="2.10"/>
<circle cx="662.8" cy="295.4" r="2.10"/>
<circle cx="1139.4" cy="295.4" r="2.10"/>
<circle cx="666.8" cy="297.5" r="2.10"/>
<circle cx="1143.4" cy="297.5" r="2.10"/>
<circle cx="669.5" cy="298.8" r="2.10"/>
<circle cx="1146.1" cy="298.8" r="2.10"/>
<circle cx="665.5" cy="308.2" r="2.10"/>
<circle cx="1142.0" cy="308.2" r="2.10"/>
<circle cx="664.8" cy="316.3" r="2.10"/>
<circle cx="1141.4" cy="316.3" r="2.10"/>
<circle cx="663.4" cy="320.3" r="2.10"/>
<circle cx="1140.0" cy="320.3" r="2.10"/>
<circle cx="662.1" cy="324.3" r="2.10"/>
<circle cx="1138.7" cy="324.3" r="2.10"/>
<circle cx="660.8" cy="327.7" r="2.10"/>
<circle cx="1137.3" cy="327.7" r="2.10"/>
<circle cx="670.8" cy="314.9" r="2.10"/>
<circle cx="1147.4" cy="314.9" r="2.10"/>
<circle cx="672.2" cy="319.6" r="2.10"/>
<circle cx="1148.8" cy="319.6" r="2.10"/>
<circle cx="671.5" cy="325.7" r="2.10"/>
<circle cx="1148.1" cy="325.7" r="2.10"/>
<circle cx="654.7" cy="331.0" r="2.10"/>
<circle cx="1131.3" cy="331.0" r="2.10"/>
<circle cx="653.4" cy="335.1" r="2.10"/>
<circle cx="1130.0" cy="335.1" r="2.10"/>
<circle cx="652.7" cy="337.8" r="2.10"/>
<circle cx="1129.3" cy="337.8" r="2.10"/>
<circle cx="656.1" cy="341.8" r="2.10"/>
<circle cx="1132.6" cy="341.8" r="2.10"/>
<circle cx="662.8" cy="335.1" r="2.10"/>
<circle cx="1139.4" cy="335.1" r="2.10"/>
<circle cx="660.1" cy="343.1" r="2.10"/>
<circle cx="1136.7" cy="343.1" r="2.10"/>
<circle cx="666.8" cy="339.1" r="2.10"/>
<circle cx="1143.4" cy="339.1" r="2.10"/>
<circle cx="670.2" cy="338.4" r="2.10"/>
<circle cx="1146.7" cy="338.4" r="2.10"/>
<circle cx="654.7" cy="345.8" r="2.10"/>
<circle cx="1131.3" cy="345.8" r="2.10"/>
<circle cx="657.4" cy="347.2" r="2.10"/>
<circle cx="1134.0" cy="347.2" r="2.10"/>
<circle cx="666.8" cy="347.2" r="2.10"/>
<circle cx="1143.4" cy="347.2" r="2.10"/>
<circle cx="670.2" cy="345.8" r="2.10"/>
<circle cx="1146.7" cy="345.8" r="2.10"/>
<circle cx="656.1" cy="349.9" r="2.10"/>
<circle cx="1132.6" cy="349.9" r="2.10"/>
<circle cx="660.1" cy="353.2" r="2.10"/>
<circle cx="1136.7" cy="353.2" r="2.10"/>
<circle cx="664.1" cy="353.2" r="2.10"/>
<circle cx="1140.7" cy="353.2" r="2.10"/>
<circle cx="666.8" cy="354.6" r="2.10"/>
<circle cx="1143.4" cy="354.6" r="2.10"/>
<circle cx="652.0" cy="355.2" r="2.10"/>
<circle cx="1128.6" cy="355.2" r="2.10"/>
<circle cx="650.7" cy="357.9" r="2.10"/>
<circle cx="1127.3" cy="357.9" r="2.10"/>
<circle cx="658.7" cy="359.3" r="2.10"/>
<circle cx="1135.3" cy="359.3" r="2.10"/>
<circle cx="668.1" cy="359.3" r="2.10"/>
<circle cx="1144.7" cy="359.3" r="2.10"/>
<circle cx="668.8" cy="361.9" r="2.10"/>
<circle cx="1145.4" cy="361.9" r="2.10"/>
<circle cx="662.8" cy="366.0" r="2.10"/>
<circle cx="1139.4" cy="366.0" r="2.10"/>
<circle cx="653.4" cy="364.0" r="2.10"/>
<circle cx="1130.0" cy="364.0" r="2.10"/>
<circle cx="227.2" cy="370.7" r="2.10"/>
<circle cx="703.8" cy="370.7" r="2.10"/>
<circle cx="230.2" cy="374.0" r="2.10"/>
<circle cx="706.8" cy="374.0" r="2.10"/>
<circle cx="229.3" cy="383.4" r="2.10"/>
<circle cx="705.8" cy="383.4" r="2.10"/>
<circle cx="228.3" cy="386.8" r="2.10"/>
<circle cx="704.9" cy="386.8" r="2.10"/>
<circle cx="244.7" cy="371.6" r="2.10"/>
<circle cx="721.3" cy="371.6" r="2.10"/>
<circle cx="245.4" cy="385.4" r="2.10"/>
<circle cx="722.0" cy="385.4" r="2.10"/>
<circle cx="254.8" cy="372.0" r="2.10"/>
<circle cx="731.4" cy="372.0" r="2.10"/>
<circle cx="253.4" cy="375.4" r="2.10"/>
<circle cx="730.0" cy="375.4" r="2.10"/>
<circle cx="251.2" cy="376.7" r="2.10"/>
<circle cx="727.7" cy="376.7" r="2.10"/>
<circle cx="253.4" cy="382.8" r="2.10"/>
<circle cx="730.0" cy="382.8" r="2.10"/>
<circle cx="259.2" cy="382.4" r="2.10"/>
<circle cx="735.8" cy="382.4" r="2.10"/>
<circle cx="252.1" cy="386.1" r="2.10"/>
<circle cx="728.7" cy="386.1" r="2.10"/>
<circle cx="256.1" cy="388.1" r="2.10"/>
<circle cx="732.7" cy="388.1" r="2.10"/>
<circle cx="259.5" cy="388.8" r="2.10"/>
<circle cx="736.1" cy="388.8" r="2.10"/>
<circle cx="250.8" cy="390.8" r="2.10"/>
<circle cx="727.3" cy="390.8" r="2.10"/>
<circle cx="254.1" cy="392.2" r="2.10"/>
<circle cx="730.7" cy="392.2" r="2.10"/>
<circle cx="260.2" cy="393.1" r="2.10"/>
<circle cx="736.7" cy="393.1" r="2.10"/>
<circle cx="246.0" cy="395.3" r="2.10"/>
<circle cx="722.6" cy="395.3" r="2.10"/>
<circle cx="249.4" cy="396.9" r="2.10"/>
<circle cx="726.0" cy="396.9" r="2.10"/>
<circle cx="252.8" cy="395.5" r="2.10"/>
<circle cx="729.3" cy="395.5" r="2.10"/>
<circle cx="256.8" cy="394.9" r="2.10"/>
<circle cx="733.4" cy="394.9" r="2.10"/>
<circle cx="250.1" cy="399.6" r="2.10"/>
<circle cx="726.7" cy="399.6" r="2.10"/>
<circle cx="254.1" cy="398.9" r="2.10"/>
<circle cx="730.7" cy="398.9" r="2.10"/>
<circle cx="260.8" cy="401.6" r="2.10"/>
<circle cx="737.4" cy="401.6" r="2.10"/>
<circle cx="252.8" cy="404.3" r="2.10"/>
<circle cx="729.3" cy="404.3" r="2.10"/>
<circle cx="257.5" cy="406.0" r="2.10"/>
<circle cx="734.0" cy="406.0" r="2.10"/>
<circle cx="261.5" cy="405.2" r="2.10"/>
<circle cx="738.1" cy="405.2" r="2.10"/>
<circle cx="247.4" cy="409.6" r="2.10"/>
<circle cx="724.0" cy="409.6" r="2.10"/>
<circle cx="248.7" cy="409.6" r="2.10"/>
<circle cx="725.3" cy="409.6" r="2.10"/>
<circle cx="265.5" cy="371.6" r="2.10"/>
<circle cx="742.1" cy="371.6" r="2.10"/>
<circle cx="266.2" cy="383.4" r="2.10"/>
<circle cx="742.8" cy="383.4" r="2.10"/>
<circle cx="267.1" cy="397.5" r="2.10"/>
<circle cx="743.7" cy="397.5" r="2.10"/>
<circle cx="274.3" cy="374.7" r="2.10"/>
<circle cx="750.8" cy="374.7" r="2.10"/>
<circle cx="277.6" cy="374.0" r="2.10"/>
<circle cx="754.2" cy="374.0" r="2.10"/>
<circle cx="281.6" cy="373.4" r="2.10"/>
<circle cx="758.2" cy="373.4" r="2.10"/>
<circle cx="285.7" cy="375.4" r="2.10"/>
<circle cx="762.3" cy="375.4" r="2.10"/>
<circle cx="286.4" cy="370.7" r="2.10"/>
<circle cx="762.9" cy="370.7" r="2.10"/>
<circle cx="278.3" cy="370.7" r="2.10"/>
<circle cx="754.9" cy="370.7" r="2.10"/>
<circle cx="279.0" cy="378.1" r="2.10"/>
<circle cx="755.5" cy="378.1" r="2.10"/>
<circle cx="282.3" cy="378.1" r="2.10"/>
<circle cx="758.9" cy="378.1" r="2.10"/>
<circle cx="276.9" cy="382.8" r="2.10"/>
<circle cx="753.5" cy="382.8" r="2.10"/>
<circle cx="281.0" cy="382.8" r="2.10"/>
<circle cx="757.6" cy="382.8" r="2.10"/>
<circle cx="287.7" cy="382.8" r="2.10"/>
<circle cx="764.3" cy="382.8" r="2.10"/>
<circle cx="278.3" cy="386.1" r="2.10"/>
<circle cx="754.9" cy="386.1" r="2.10"/>
<circle cx="283.7" cy="384.8" r="2.10"/>
<circle cx="760.2" cy="384.8" r="2.10"/>
<circle cx="289.7" cy="386.8" r="2.10"/>
<circle cx="766.3" cy="386.8" r="2.10"/>
<circle cx="286.4" cy="386.8" r="2.10"/>
<circle cx="762.9" cy="386.8" r="2.10"/>
<circle cx="282.3" cy="388.1" r="2.10"/>
<circle cx="758.9" cy="388.1" r="2.10"/>
<circle cx="277.6" cy="390.2" r="2.10"/>
<circle cx="754.2" cy="390.2" r="2.10"/>
<circle cx="283.7" cy="392.2" r="2.10"/>
<circle cx="760.2" cy="392.2" r="2.10"/>
<circle cx="274.3" cy="395.1" r="2.10"/>
<circle cx="750.8" cy="395.1" r="2.10"/>
<circle cx="280.3" cy="396.9" r="2.10"/>
<circle cx="756.9" cy="396.9" r="2.10"/>
<circle cx="282.3" cy="399.6" r="2.10"/>
<circle cx="758.9" cy="399.6" r="2.10"/>
<circle cx="281.0" cy="402.2" r="2.10"/>
<circle cx="757.6" cy="402.2" r="2.10"/>
<circle cx="283.7" cy="402.9" r="2.10"/>
<circle cx="760.2" cy="402.9" r="2.10"/>
<circle cx="287.2" cy="396.2" r="2.10"/>
<circle cx="763.7" cy="396.2" r="2.10"/>
<circle cx="276.9" cy="402.9" r="2.10"/>
<circle cx="753.5" cy="402.9" r="2.10"/>
<circle cx="276.0" cy="407.6" r="2.10"/>
<circle cx="752.6" cy="407.6" r="2.10"/>
<circle cx="289.7" cy="404.3" r="2.10"/>
<circle cx="766.3" cy="404.3" r="2.10"/>
<circle cx="290.7" cy="407.6" r="2.10"/>
<circle cx="767.2" cy="407.6" r="2.10"/>
<circle cx="286.4" cy="410.6" r="2.10"/>
<circle cx="762.9" cy="410.6" r="2.10"/>
<circle cx="272.9" cy="414.3" r="2.10"/>
<circle cx="749.5" cy="414.3" r="2.10"/>
<circle cx="275.3" cy="417.0" r="2.10"/>
<circle cx="751.9" cy="417.0" r="2.10"/>
<circle cx="262.2" cy="419.0" r="2.10"/>
<circle cx="738.8" cy="419.0" r="2.10"/>
<circle cx="267.9" cy="422.4" r="2.10"/>
<circle cx="744.5" cy="422.4" r="2.10"/>
<circle cx="283.7" cy="421.3" r="2.10"/>
<circle cx="760.2" cy="421.3" r="2.10"/>
<circle cx="286.4" cy="421.3" r="2.10"/>
<circle cx="762.9" cy="421.3" r="2.10"/>
<circle cx="291.5" cy="421.0" r="2.10"/>
<circle cx="768.0" cy="421.0" r="2.10"/>
<circle cx="292.0" cy="427.1" r="2.10"/>
<circle cx="768.6" cy="427.1" r="2.10"/>
<circle cx="285.0" cy="430.1" r="2.10"/>
<circle cx="761.6" cy="430.1" r="2.10"/>
<circle cx="263.2" cy="433.1" r="2.10"/>
<circle cx="739.8" cy="433.1" r="2.10"/>
<circle cx="274.3" cy="431.1" r="2.10"/>
<circle cx="750.8" cy="431.1" r="2.10"/>
<circle cx="272.9" cy="434.5" r="2.10"/>
<circle cx="749.5" cy="434.5" r="2.10"/>
<circle cx="273.6" cy="438.8" r="2.10"/>
<circle cx="750.2" cy="438.8" r="2.10"/>
<circle cx="271.8" cy="443.2" r="2.10"/>
<circle cx="748.4" cy="443.2" r="2.10"/>
<circle cx="263.8" cy="447.4" r="2.10"/>
<circle cx="740.4" cy="447.4" r="2.10"/>
<circle cx="268.9" cy="447.4" r="2.10"/>
<circle cx="745.5" cy="447.4" r="2.10"/>
<circle cx="272.9" cy="454.0" r="2.10"/>
<circle cx="749.5" cy="454.0" r="2.10"/>
<circle cx="271.6" cy="456.0" r="2.10"/>
<circle cx="748.2" cy="456.0" r="2.10"/>
<circle cx="264.9" cy="458.0" r="2.10"/>
<circle cx="741.4" cy="458.0" r="2.10"/>
<circle cx="293.1" cy="449.5" r="2.10"/>
<circle cx="769.6" cy="449.5" r="2.10"/>
<circle cx="311.2" cy="374.0" r="2.10"/>
<circle cx="787.8" cy="374.0" r="2.10"/>
<circle cx="310.5" cy="386.8" r="2.10"/>
<circle cx="787.1" cy="386.8" r="2.10"/>
<circle cx="309.9" cy="388.8" r="2.10"/>
<circle cx="786.4" cy="388.8" r="2.10"/>
<circle cx="308.5" cy="398.9" r="2.10"/>
<circle cx="785.1" cy="398.9" r="2.10"/>
<circle cx="307.2" cy="402.2" r="2.10"/>
<circle cx="783.8" cy="402.2" r="2.10"/>
<circle cx="306.5" cy="405.2" r="2.10"/>
<circle cx="783.1" cy="405.2" r="2.10"/>
<circle cx="305.8" cy="415.7" r="2.10"/>
<circle cx="782.4" cy="415.7" r="2.10"/>
<circle cx="305.2" cy="419.0" r="2.10"/>
<circle cx="781.7" cy="419.0" r="2.10"/>
<circle cx="303.8" cy="429.8" r="2.10"/>
<circle cx="780.4" cy="429.8" r="2.10"/>
<circle cx="303.1" cy="432.1" r="2.10"/>
<circle cx="779.7" cy="432.1" r="2.10"/>
<circle cx="303.8" cy="434.8" r="2.10"/>
<circle cx="780.4" cy="434.8" r="2.10"/>
<circle cx="301.1" cy="441.9" r="2.10"/>
<circle cx="777.7" cy="441.9" r="2.10"/>
<circle cx="301.8" cy="448.2" r="2.10"/>
<circle cx="778.4" cy="448.2" r="2.10"/>
<circle cx="299.1" cy="456.0" r="2.10"/>
<circle cx="775.7" cy="456.0" r="2.10"/>
<circle cx="326.0" cy="372.0" r="2.10"/>
<circle cx="802.6" cy="372.0" r="2.10"/>
<circle cx="333.4" cy="371.1" r="2.10"/>
<circle cx="810.0" cy="371.1" r="2.10"/>
<circle cx="325.3" cy="385.9" r="2.10"/>
<circle cx="801.9" cy="385.9" r="2.10"/>
<circle cx="328.0" cy="388.1" r="2.10"/>
<circle cx="804.6" cy="388.1" r="2.10"/>
<circle cx="326.0" cy="394.2" r="2.10"/>
<circle cx="802.6" cy="394.2" r="2.10"/>
<circle cx="329.3" cy="396.2" r="2.10"/>
<circle cx="805.9" cy="396.2" r="2.10"/>
<circle cx="330.0" cy="401.6" r="2.10"/>
<circle cx="806.6" cy="401.6" r="2.10"/>
<circle cx="331.4" cy="402.9" r="2.10"/>
<circle cx="807.9" cy="402.9" r="2.10"/>
<circle cx="326.7" cy="406.9" r="2.10"/>
<circle cx="803.2" cy="406.9" r="2.10"/>
<circle cx="331.8" cy="410.3" r="2.10"/>
<circle cx="808.3" cy="410.3" r="2.10"/>
<circle cx="327.3" cy="412.7" r="2.10"/>
<circle cx="803.9" cy="412.7" r="2.10"/>
<circle cx="332.7" cy="417.0" r="2.10"/>
<circle cx="809.3" cy="417.0" r="2.10"/>
<circle cx="328.7" cy="426.7" r="2.10"/>
<circle cx="805.2" cy="426.7" r="2.10"/>
<circle cx="333.4" cy="424.4" r="2.10"/>
<circle cx="810.0" cy="424.4" r="2.10"/>
<circle cx="334.7" cy="429.1" r="2.10"/>
<circle cx="811.3" cy="429.1" r="2.10"/>
<circle cx="329.3" cy="436.5" r="2.10"/>
<circle cx="805.9" cy="436.5" r="2.10"/>
<circle cx="336.1" cy="433.1" r="2.10"/>
<circle cx="812.6" cy="433.1" r="2.10"/>
<circle cx="334.7" cy="437.2" r="2.10"/>
<circle cx="811.3" cy="437.2" r="2.10"/>
<circle cx="337.4" cy="437.8" r="2.10"/>
<circle cx="814.0" cy="437.8" r="2.10"/>
<circle cx="332.0" cy="441.2" r="2.10"/>
<circle cx="808.6" cy="441.2" r="2.10"/>
<circle cx="334.7" cy="443.2" r="2.10"/>
<circle cx="811.3" cy="443.2" r="2.10"/>
<circle cx="338.7" cy="443.9" r="2.10"/>
<circle cx="815.3" cy="443.9" r="2.10"/>
<circle cx="330.7" cy="447.9" r="2.10"/>
<circle cx="807.3" cy="447.9" r="2.10"/>
<circle cx="337.4" cy="447.2" r="2.10"/>
<circle cx="814.0" cy="447.2" r="2.10"/>
<circle cx="338.7" cy="456.6" r="2.10"/>
<circle cx="815.3" cy="456.6" r="2.10"/>
<circle cx="342.1" cy="372.4" r="2.10"/>
<circle cx="818.7" cy="372.4" r="2.10"/>
<circle cx="345.5" cy="376.0" r="2.10"/>
<circle cx="822.0" cy="376.0" r="2.10"/>
<circle cx="348.1" cy="377.4" r="2.10"/>
<circle cx="824.7" cy="377.4" r="2.10"/>
<circle cx="350.2" cy="373.4" r="2.10"/>
<circle cx="826.7" cy="373.4" r="2.10"/>
<circle cx="342.8" cy="379.4" r="2.10"/>
<circle cx="819.4" cy="379.4" r="2.10"/>
<circle cx="354.9" cy="374.7" r="2.10"/>
<circle cx="831.4" cy="374.7" r="2.10"/>
<circle cx="342.8" cy="393.1" r="2.10"/>
<circle cx="819.4" cy="393.1" r="2.10"/>
<circle cx="345.5" cy="393.1" r="2.10"/>
<circle cx="822.0" cy="393.1" r="2.10"/>
<circle cx="352.2" cy="394.9" r="2.10"/>
<circle cx="828.8" cy="394.9" r="2.10"/>
<circle cx="354.2" cy="396.9" r="2.10"/>
<circle cx="830.8" cy="396.9" r="2.10"/>
<circle cx="346.1" cy="398.9" r="2.10"/>
<circle cx="822.7" cy="398.9" r="2.10"/>
<circle cx="350.8" cy="402.0" r="2.10"/>
<circle cx="827.4" cy="402.0" r="2.10"/>
<circle cx="354.2" cy="400.2" r="2.10"/>
<circle cx="830.8" cy="400.2" r="2.10"/>
<circle cx="344.1" cy="406.3" r="2.10"/>
<circle cx="820.7" cy="406.3" r="2.10"/>
<circle cx="347.5" cy="406.9" r="2.10"/>
<circle cx="824.1" cy="406.9" r="2.10"/>
<circle cx="342.8" cy="410.3" r="2.10"/>
<circle cx="819.4" cy="410.3" r="2.10"/>
<circle cx="348.1" cy="413.0" r="2.10"/>
<circle cx="824.7" cy="413.0" r="2.10"/>
<circle cx="350.2" cy="413.0" r="2.10"/>
<circle cx="826.7" cy="413.0" r="2.10"/>
<circle cx="348.8" cy="415.7" r="2.10"/>
<circle cx="825.4" cy="415.7" r="2.10"/>
<circle cx="342.1" cy="421.3" r="2.10"/>
<circle cx="818.7" cy="421.3" r="2.10"/>
<circle cx="341.4" cy="427.8" r="2.10"/>
<circle cx="818.0" cy="427.8" r="2.10"/>
<circle cx="340.8" cy="431.1" r="2.10"/>
<circle cx="817.3" cy="431.1" r="2.10"/>
<circle cx="357.0" cy="371.3" r="2.10"/>
<circle cx="833.6" cy="371.3" r="2.10"/>
<circle cx="360.4" cy="374.0" r="2.10"/>
<circle cx="837.0" cy="374.0" r="2.10"/>
<circle cx="363.1" cy="370.7" r="2.10"/>
<circle cx="839.6" cy="370.7" r="2.10"/>
<circle cx="365.1" cy="373.4" r="2.10"/>
<circle cx="841.7" cy="373.4" r="2.10"/>
<circle cx="360.4" cy="382.8" r="2.10"/>
<circle cx="837.0" cy="382.8" r="2.10"/>
<circle cx="365.1" cy="384.1" r="2.10"/>
<circle cx="841.7" cy="384.1" r="2.10"/>
<circle cx="368.4" cy="382.8" r="2.10"/>
<circle cx="845.0" cy="382.8" r="2.10"/>
<circle cx="372.5" cy="385.4" r="2.10"/>
<circle cx="849.0" cy="385.4" r="2.10"/>
<circle cx="369.8" cy="386.8" r="2.10"/>
<circle cx="846.4" cy="386.8" r="2.10"/>
<circle cx="357.0" cy="393.5" r="2.10"/>
<circle cx="833.6" cy="393.5" r="2.10"/>
<circle cx="360.4" cy="394.2" r="2.10"/>
<circle cx="837.0" cy="394.2" r="2.10"/>
<circle cx="364.4" cy="394.2" r="2.10"/>
<circle cx="841.0" cy="394.2" r="2.10"/>
<circle cx="356.3" cy="397.5" r="2.10"/>
<circle cx="832.9" cy="397.5" r="2.10"/>
<circle cx="360.4" cy="398.2" r="2.10"/>
<circle cx="837.0" cy="398.2" r="2.10"/>
<circle cx="365.1" cy="397.5" r="2.10"/>
<circle cx="841.7" cy="397.5" r="2.10"/>
<circle cx="367.8" cy="398.9" r="2.10"/>
<circle cx="844.3" cy="398.9" r="2.10"/>
<circle cx="369.8" cy="400.9" r="2.10"/>
<circle cx="846.4" cy="400.9" r="2.10"/>
<circle cx="356.3" cy="406.3" r="2.10"/>
<circle cx="832.9" cy="406.3" r="2.10"/>
<circle cx="367.1" cy="409.2" r="2.10"/>
<circle cx="843.7" cy="409.2" r="2.10"/>
<circle cx="374.5" cy="406.9" r="2.10"/>
<circle cx="851.1" cy="406.9" r="2.10"/>
<circle cx="368.7" cy="417.0" r="2.10"/>
<circle cx="845.3" cy="417.0" r="2.10"/>
<circle cx="374.9" cy="421.0" r="2.10"/>
<circle cx="851.5" cy="421.0" r="2.10"/>
<circle cx="380.5" cy="415.7" r="2.10"/>
<circle cx="857.1" cy="415.7" r="2.10"/>
<circle cx="381.9" cy="421.7" r="2.10"/>
<circle cx="858.4" cy="421.7" r="2.10"/>
<circle cx="385.2" cy="421.7" r="2.10"/>
<circle cx="861.8" cy="421.7" r="2.10"/>
<circle cx="388.3" cy="422.4" r="2.10"/>
<circle cx="864.9" cy="422.4" r="2.10"/>
<circle cx="379.2" cy="424.4" r="2.10"/>
<circle cx="855.8" cy="424.4" r="2.10"/>
<circle cx="382.5" cy="427.8" r="2.10"/>
<circle cx="859.1" cy="427.8" r="2.10"/>
<circle cx="383.2" cy="429.1" r="2.10"/>
<circle cx="859.8" cy="429.1" r="2.10"/>
<circle cx="376.5" cy="431.8" r="2.10"/>
<circle cx="853.1" cy="431.8" r="2.10"/>
<circle cx="377.8" cy="434.5" r="2.10"/>
<circle cx="854.4" cy="434.5" r="2.10"/>
<circle cx="377.2" cy="437.2" r="2.10"/>
<circle cx="853.7" cy="437.2" r="2.10"/>
<circle cx="367.8" cy="437.2" r="2.10"/>
<circle cx="844.3" cy="437.2" r="2.10"/>
<circle cx="367.1" cy="445.0" r="2.10"/>
<circle cx="843.7" cy="445.0" r="2.10"/>
<circle cx="375.8" cy="443.9" r="2.10"/>
<circle cx="852.4" cy="443.9" r="2.10"/>
<circle cx="366.4" cy="452.6" r="2.10"/>
<circle cx="843.0" cy="452.6" r="2.10"/>
<circle cx="383.9" cy="376.0" r="2.10"/>
<circle cx="860.5" cy="376.0" r="2.10"/>
<circle cx="387.2" cy="376.0" r="2.10"/>
<circle cx="863.8" cy="376.0" r="2.10"/>
<circle cx="389.3" cy="378.1" r="2.10"/>
<circle cx="865.8" cy="378.1" r="2.10"/>
<circle cx="385.9" cy="378.7" r="2.10"/>
<circle cx="862.5" cy="378.7" r="2.10"/>
<circle cx="389.9" cy="381.4" r="2.10"/>
<circle cx="866.5" cy="381.4" r="2.10"/>
<circle cx="383.9" cy="384.8" r="2.10"/>
<circle cx="860.5" cy="384.8" r="2.10"/>
<circle cx="381.2" cy="392.8" r="2.10"/>
<circle cx="857.8" cy="392.8" r="2.10"/>
<circle cx="385.9" cy="394.9" r="2.10"/>
<circle cx="862.5" cy="394.9" r="2.10"/>
<circle cx="391.3" cy="394.2" r="2.10"/>
<circle cx="867.9" cy="394.2" r="2.10"/>
<circle cx="393.3" cy="394.9" r="2.10"/>
<circle cx="869.9" cy="394.9" r="2.10"/>
<circle cx="395.3" cy="396.9" r="2.10"/>
<circle cx="871.9" cy="396.9" r="2.10"/>
<circle cx="390.6" cy="398.9" r="2.10"/>
<circle cx="867.2" cy="398.9" r="2.10"/>
<circle cx="382.5" cy="406.9" r="2.10"/>
<circle cx="859.1" cy="406.9" r="2.10"/>
<circle cx="385.9" cy="405.6" r="2.10"/>
<circle cx="862.5" cy="405.6" r="2.10"/>
<circle cx="389.3" cy="405.6" r="2.10"/>
<circle cx="865.8" cy="405.6" r="2.10"/>
<circle cx="391.3" cy="406.9" r="2.10"/>
<circle cx="867.9" cy="406.9" r="2.10"/>
<circle cx="392.6" cy="410.3" r="2.10"/>
<circle cx="869.2" cy="410.3" r="2.10"/>
<circle cx="393.3" cy="413.7" r="2.10"/>
<circle cx="869.9" cy="413.7" r="2.10"/>
<circle cx="394.6" cy="417.0" r="2.10"/>
<circle cx="871.2" cy="417.0" r="2.10"/>
<circle cx="387.2" cy="414.3" r="2.10"/>
<circle cx="863.8" cy="414.3" r="2.10"/>
<circle cx="389.3" cy="415.0" r="2.10"/>
<circle cx="865.8" cy="415.0" r="2.10"/>
<circle cx="395.3" cy="427.8" r="2.10"/>
<circle cx="871.9" cy="427.8" r="2.10"/>
<circle cx="396.6" cy="375.6" r="2.10"/>
<circle cx="873.2" cy="375.6" r="2.10"/>
<circle cx="396.0" cy="390.2" r="2.10"/>
<circle cx="872.6" cy="390.2" r="2.10"/>
<circle cx="380.5" cy="371.3" r="2.10"/>
<circle cx="857.1" cy="371.3" r="2.10"/>
<circle cx="418.1" cy="371.3" r="2.10"/>
<circle cx="894.7" cy="371.3" r="2.10"/>
<circle cx="422.2" cy="370.7" r="2.10"/>
<circle cx="898.8" cy="370.7" r="2.10"/>
<circle cx="421.5" cy="379.4" r="2.10"/>
<circle cx="898.1" cy="379.4" r="2.10"/>
<circle cx="426.2" cy="384.1" r="2.10"/>
<circle cx="902.8" cy="384.1" r="2.10"/>
<circle cx="418.1" cy="388.8" r="2.10"/>
<circle cx="894.7" cy="388.8" r="2.10"/>
<circle cx="420.8" cy="390.2" r="2.10"/>
<circle cx="897.4" cy="390.2" r="2.10"/>
<circle cx="424.9" cy="391.5" r="2.10"/>
<circle cx="901.4" cy="391.5" r="2.10"/>
<circle cx="427.5" cy="394.2" r="2.10"/>
<circle cx="904.1" cy="394.2" r="2.10"/>
<circle cx="428.9" cy="398.2" r="2.10"/>
<circle cx="905.5" cy="398.2" r="2.10"/>
<circle cx="423.5" cy="396.2" r="2.10"/>
<circle cx="900.1" cy="396.2" r="2.10"/>
<circle cx="420.2" cy="399.6" r="2.10"/>
<circle cx="896.7" cy="399.6" r="2.10"/>
<circle cx="423.5" cy="403.6" r="2.10"/>
<circle cx="900.1" cy="403.6" r="2.10"/>
<circle cx="416.1" cy="405.6" r="2.10"/>
<circle cx="892.7" cy="405.6" r="2.10"/>
<circle cx="418.1" cy="407.6" r="2.10"/>
<circle cx="894.7" cy="407.6" r="2.10"/>
<circle cx="420.2" cy="409.6" r="2.10"/>
<circle cx="896.7" cy="409.6" r="2.10"/>
<circle cx="422.8" cy="411.6" r="2.10"/>
<circle cx="899.4" cy="411.6" r="2.10"/>
<circle cx="430.2" cy="412.7" r="2.10"/>
<circle cx="906.8" cy="412.7" r="2.10"/>
<circle cx="415.5" cy="418.6" r="2.10"/>
<circle cx="892.0" cy="418.6" r="2.10"/>
<circle cx="420.8" cy="418.4" r="2.10"/>
<circle cx="897.4" cy="418.4" r="2.10"/>
<circle cx="422.2" cy="423.7" r="2.10"/>
<circle cx="898.8" cy="423.7" r="2.10"/>
<circle cx="430.2" cy="421.0" r="2.10"/>
<circle cx="906.8" cy="421.0" r="2.10"/>
<circle cx="432.9" cy="419.7" r="2.10"/>
<circle cx="909.5" cy="419.7" r="2.10"/>
<circle cx="435.6" cy="421.7" r="2.10"/>
<circle cx="912.2" cy="421.7" r="2.10"/>
<circle cx="431.6" cy="426.4" r="2.10"/>
<circle cx="908.2" cy="426.4" r="2.10"/>
<circle cx="434.9" cy="424.4" r="2.10"/>
<circle cx="911.5" cy="424.4" r="2.10"/>
<circle cx="414.8" cy="425.1" r="2.10"/>
<circle cx="891.4" cy="425.1" r="2.10"/>
<circle cx="412.8" cy="429.8" r="2.10"/>
<circle cx="889.3" cy="429.8" r="2.10"/>
<circle cx="414.1" cy="432.5" r="2.10"/>
<circle cx="890.7" cy="432.5" r="2.10"/>
<circle cx="411.4" cy="438.5" r="2.10"/>
<circle cx="888.0" cy="438.5" r="2.10"/>
<circle cx="407.4" cy="441.2" r="2.10"/>
<circle cx="884.0" cy="441.2" r="2.10"/>
<circle cx="408.7" cy="445.2" r="2.10"/>
<circle cx="885.3" cy="445.2" r="2.10"/>
<circle cx="411.4" cy="447.2" r="2.10"/>
<circle cx="888.0" cy="447.2" r="2.10"/>
<circle cx="402.7" cy="449.3" r="2.10"/>
<circle cx="879.3" cy="449.3" r="2.10"/>
<circle cx="403.4" cy="452.6" r="2.10"/>
<circle cx="879.9" cy="452.6" r="2.10"/>
<circle cx="396.6" cy="451.3" r="2.10"/>
<circle cx="873.2" cy="451.3" r="2.10"/>
<circle cx="396.0" cy="441.9" r="2.10"/>
<circle cx="872.6" cy="441.9" r="2.10"/>
<circle cx="406.0" cy="459.1" r="2.10"/>
<circle cx="882.6" cy="459.1" r="2.10"/>
<circle cx="440.3" cy="383.2" r="2.10"/>
<circle cx="916.9" cy="383.2" r="2.10"/>
<circle cx="443.7" cy="386.8" r="2.10"/>
<circle cx="920.2" cy="386.8" r="2.10"/>
<circle cx="447.7" cy="378.1" r="2.10"/>
<circle cx="924.3" cy="378.1" r="2.10"/>
<circle cx="449.0" cy="382.1" r="2.10"/>
<circle cx="925.6" cy="382.1" r="2.10"/>
<circle cx="451.7" cy="379.4" r="2.10"/>
<circle cx="928.3" cy="379.4" r="2.10"/>
<circle cx="454.4" cy="375.4" r="2.10"/>
<circle cx="931.0" cy="375.4" r="2.10"/>
<circle cx="457.1" cy="371.6" r="2.10"/>
<circle cx="933.7" cy="371.6" r="2.10"/>
<circle cx="442.3" cy="392.8" r="2.10"/>
<circle cx="918.9" cy="392.8" r="2.10"/>
<circle cx="446.4" cy="392.2" r="2.10"/>
<circle cx="922.9" cy="392.2" r="2.10"/>
<circle cx="449.0" cy="394.2" r="2.10"/>
<circle cx="925.6" cy="394.2" r="2.10"/>
<circle cx="451.7" cy="392.8" r="2.10"/>
<circle cx="928.3" cy="392.8" r="2.10"/>
<circle cx="453.7" cy="390.8" r="2.10"/>
<circle cx="930.3" cy="390.8" r="2.10"/>
<circle cx="441.6" cy="398.9" r="2.10"/>
<circle cx="918.2" cy="398.9" r="2.10"/>
<circle cx="447.7" cy="398.9" r="2.10"/>
<circle cx="924.3" cy="398.9" r="2.10"/>
<circle cx="450.4" cy="401.6" r="2.10"/>
<circle cx="927.0" cy="401.6" r="2.10"/>
<circle cx="452.4" cy="404.3" r="2.10"/>
<circle cx="929.0" cy="404.3" r="2.10"/>
<circle cx="459.1" cy="384.8" r="2.10"/>
<circle cx="935.7" cy="384.8" r="2.10"/>
<circle cx="461.1" cy="387.5" r="2.10"/>
<circle cx="937.7" cy="387.5" r="2.10"/>
<circle cx="461.8" cy="391.5" r="2.10"/>
<circle cx="938.4" cy="391.5" r="2.10"/>
<circle cx="459.8" cy="396.2" r="2.10"/>
<circle cx="936.4" cy="396.2" r="2.10"/>
<circle cx="462.5" cy="398.2" r="2.10"/>
<circle cx="939.1" cy="398.2" r="2.10"/>
<circle cx="464.5" cy="400.2" r="2.10"/>
<circle cx="941.1" cy="400.2" r="2.10"/>
<circle cx="459.1" cy="402.9" r="2.10"/>
<circle cx="935.7" cy="402.9" r="2.10"/>
<circle cx="462.5" cy="407.6" r="2.10"/>
<circle cx="939.1" cy="407.6" r="2.10"/>
<circle cx="463.8" cy="411.0" r="2.10"/>
<circle cx="940.4" cy="411.0" r="2.10"/>
<circle cx="465.2" cy="413.7" r="2.10"/>
<circle cx="941.7" cy="413.7" r="2.10"/>
<circle cx="451.7" cy="410.3" r="2.10"/>
<circle cx="928.3" cy="410.3" r="2.10"/>
<circle cx="447.7" cy="414.3" r="2.10"/>
<circle cx="924.3" cy="414.3" r="2.10"/>
<circle cx="448.4" cy="420.4" r="2.10"/>
<circle cx="924.9" cy="420.4" r="2.10"/>
<circle cx="450.4" cy="421.7" r="2.10"/>
<circle cx="927.0" cy="421.7" r="2.10"/>
<circle cx="453.1" cy="420.4" r="2.10"/>
<circle cx="929.6" cy="420.4" r="2.10"/>
<circle cx="457.1" cy="419.0" r="2.10"/>
<circle cx="933.7" cy="419.0" r="2.10"/>
<circle cx="455.8" cy="425.8" r="2.10"/>
<circle cx="932.3" cy="425.8" r="2.10"/>
<circle cx="454.4" cy="436.5" r="2.10"/>
<circle cx="931.0" cy="436.5" r="2.10"/>
<circle cx="451.7" cy="439.9" r="2.10"/>
<circle cx="928.3" cy="439.9" r="2.10"/>
<circle cx="453.7" cy="442.5" r="2.10"/>
<circle cx="930.3" cy="442.5" r="2.10"/>
<circle cx="450.4" cy="445.2" r="2.10"/>
<circle cx="927.0" cy="445.2" r="2.10"/>
<circle cx="449.0" cy="448.6" r="2.10"/>
<circle cx="925.6" cy="448.6" r="2.10"/>
<circle cx="447.7" cy="451.3" r="2.10"/>
<circle cx="924.3" cy="451.3" r="2.10"/>
<circle cx="447.0" cy="453.3" r="2.10"/>
<circle cx="923.6" cy="453.3" r="2.10"/>
<circle cx="446.4" cy="459.1" r="2.10"/>
<circle cx="922.9" cy="459.1" r="2.10"/>
<circle cx="437.2" cy="439.2" r="2.10"/>
<circle cx="913.8" cy="439.2" r="2.10"/>
<circle cx="438.3" cy="443.2" r="2.10"/>
<circle cx="914.9" cy="443.2" r="2.10"/>
<circle cx="439.0" cy="450.6" r="2.10"/>
<circle cx="915.5" cy="450.6" r="2.10"/>
<circle cx="465.2" cy="420.4" r="2.10"/>
<circle cx="941.7" cy="420.4" r="2.10"/>
<circle cx="469.9" cy="424.4" r="2.10"/>
<circle cx="946.4" cy="424.4" r="2.10"/>
<circle cx="466.5" cy="430.5" r="2.10"/>
<circle cx="943.1" cy="430.5" r="2.10"/>
<circle cx="468.5" cy="433.1" r="2.10"/>
<circle cx="945.1" cy="433.1" r="2.10"/>
<circle cx="469.2" cy="435.8" r="2.10"/>
<circle cx="945.8" cy="435.8" r="2.10"/>
<circle cx="471.2" cy="401.8" r="2.10"/>
<circle cx="947.8" cy="401.8" r="2.10"/>
<circle cx="470.5" cy="410.3" r="2.10"/>
<circle cx="947.1" cy="410.3" r="2.10"/>
<circle cx="465.2" cy="382.1" r="2.10"/>
<circle cx="941.7" cy="382.1" r="2.10"/>
<circle cx="467.8" cy="379.4" r="2.10"/>
<circle cx="944.4" cy="379.4" r="2.10"/>
<circle cx="469.9" cy="388.1" r="2.10"/>
<circle cx="946.4" cy="388.1" r="2.10"/>
<circle cx="471.9" cy="390.2" r="2.10"/>
<circle cx="948.5" cy="390.2" r="2.10"/>
<circle cx="473.2" cy="386.8" r="2.10"/>
<circle cx="949.8" cy="386.8" r="2.10"/>
<circle cx="470.5" cy="373.4" r="2.10"/>
<circle cx="947.1" cy="373.4" r="2.10"/>
<circle cx="473.9" cy="374.7" r="2.10"/>
<circle cx="950.5" cy="374.7" r="2.10"/>
<circle cx="477.3" cy="376.0" r="2.10"/>
<circle cx="953.8" cy="376.0" r="2.10"/>
<circle cx="479.9" cy="372.7" r="2.10"/>
<circle cx="956.5" cy="372.7" r="2.10"/>
<circle cx="484.0" cy="371.3" r="2.10"/>
<circle cx="960.5" cy="371.3" r="2.10"/>
<circle cx="488.0" cy="370.7" r="2.10"/>
<circle cx="964.6" cy="370.7" r="2.10"/>
<circle cx="477.9" cy="380.1" r="2.10"/>
<circle cx="954.5" cy="380.1" r="2.10"/>
<circle cx="481.3" cy="382.1" r="2.10"/>
<circle cx="957.9" cy="382.1" r="2.10"/>
<circle cx="482.6" cy="385.4" r="2.10"/>
<circle cx="959.2" cy="385.4" r="2.10"/>
<circle cx="485.3" cy="386.8" r="2.10"/>
<circle cx="961.9" cy="386.8" r="2.10"/>
<circle cx="489.3" cy="378.7" r="2.10"/>
<circle cx="965.9" cy="378.7" r="2.10"/>
<circle cx="492.0" cy="380.1" r="2.10"/>
<circle cx="968.6" cy="380.1" r="2.10"/>
<circle cx="494.0" cy="383.4" r="2.10"/>
<circle cx="970.6" cy="383.4" r="2.10"/>
<circle cx="496.1" cy="384.8" r="2.10"/>
<circle cx="972.6" cy="384.8" r="2.10"/>
<circle cx="498.7" cy="386.1" r="2.10"/>
<circle cx="975.3" cy="386.1" r="2.10"/>
<circle cx="490.0" cy="388.8" r="2.10"/>
<circle cx="966.6" cy="388.8" r="2.10"/>
<circle cx="488.0" cy="391.5" r="2.10"/>
<circle cx="964.6" cy="391.5" r="2.10"/>
<circle cx="484.6" cy="390.2" r="2.10"/>
<circle cx="961.2" cy="390.2" r="2.10"/>
<circle cx="481.3" cy="393.5" r="2.10"/>
<circle cx="957.9" cy="393.5" r="2.10"/>
<circle cx="487.3" cy="395.5" r="2.10"/>
<circle cx="963.9" cy="395.5" r="2.10"/>
<circle cx="493.4" cy="388.8" r="2.10"/>
<circle cx="970.0" cy="388.8" r="2.10"/>
<circle cx="497.4" cy="393.5" r="2.10"/>
<circle cx="974.0" cy="393.5" r="2.10"/>
<circle cx="496.7" cy="401.8" r="2.10"/>
<circle cx="973.3" cy="401.8" r="2.10"/>
<circle cx="482.0" cy="406.0" r="2.10"/>
<circle cx="958.5" cy="406.0" r="2.10"/>
<circle cx="486.0" cy="411.0" r="2.10"/>
<circle cx="962.6" cy="411.0" r="2.10"/>
<circle cx="485.3" cy="414.3" r="2.10"/>
<circle cx="961.9" cy="414.3" r="2.10"/>
<circle cx="483.3" cy="417.0" r="2.10"/>
<circle cx="959.9" cy="417.0" r="2.10"/>
<circle cx="499.4" cy="371.3" r="2.10"/>
<circle cx="976.0" cy="371.3" r="2.10"/>
<circle cx="509.5" cy="376.0" r="2.10"/>
<circle cx="986.1" cy="376.0" r="2.10"/>
<circle cx="504.8" cy="382.1" r="2.10"/>
<circle cx="981.4" cy="382.1" r="2.10"/>
<circle cx="508.1" cy="382.8" r="2.10"/>
<circle cx="984.7" cy="382.8" r="2.10"/>
<circle cx="506.1" cy="386.8" r="2.10"/>
<circle cx="982.7" cy="386.8" r="2.10"/>
<circle cx="504.8" cy="390.8" r="2.10"/>
<circle cx="981.4" cy="390.8" r="2.10"/>
<circle cx="528.4" cy="370.7" r="2.10"/>
<circle cx="1005.0" cy="370.7" r="2.10"/>
<circle cx="531.8" cy="370.7" r="2.10"/>
<circle cx="1008.4" cy="370.7" r="2.10"/>
<circle cx="535.2" cy="371.3" r="2.10"/>
<circle cx="1011.7" cy="371.3" r="2.10"/>
<circle cx="529.8" cy="376.0" r="2.10"/>
<circle cx="1006.4" cy="376.0" r="2.10"/>
<circle cx="528.4" cy="378.1" r="2.10"/>
<circle cx="1005.0" cy="378.1" r="2.10"/>
<circle cx="529.1" cy="383.4" r="2.10"/>
<circle cx="1005.7" cy="383.4" r="2.10"/>
<circle cx="535.8" cy="392.2" r="2.10"/>
<circle cx="1012.4" cy="392.2" r="2.10"/>
<circle cx="536.5" cy="406.3" r="2.10"/>
<circle cx="1013.1" cy="406.3" r="2.10"/>
<circle cx="537.6" cy="412.7" r="2.10"/>
<circle cx="1014.1" cy="412.7" r="2.10"/>
<circle cx="538.1" cy="424.7" r="2.10"/>
<circle cx="1014.7" cy="424.7" r="2.10"/>
<circle cx="528.4" cy="443.2" r="2.10"/>
<circle cx="1005.0" cy="443.2" r="2.10"/>
<circle cx="530.4" cy="447.2" r="2.10"/>
<circle cx="1007.0" cy="447.2" r="2.10"/>
<circle cx="531.8" cy="450.6" r="2.10"/>
<circle cx="1008.4" cy="450.6" r="2.10"/>
<circle cx="528.4" cy="452.6" r="2.10"/>
<circle cx="1005.0" cy="452.6" r="2.10"/>
<circle cx="524.4" cy="454.6" r="2.10"/>
<circle cx="1001.0" cy="454.6" r="2.10"/>
<circle cx="526.4" cy="458.0" r="2.10"/>
<circle cx="1003.0" cy="458.0" r="2.10"/>
<circle cx="533.8" cy="457.3" r="2.10"/>
<circle cx="1010.4" cy="457.3" r="2.10"/>
<circle cx="538.9" cy="442.1" r="2.10"/>
<circle cx="1015.5" cy="442.1" r="2.10"/>
<circle cx="549.3" cy="443.2" r="2.10"/>
<circle cx="1025.8" cy="443.2" r="2.10"/>
<circle cx="548.6" cy="446.3" r="2.10"/>
<circle cx="1025.2" cy="446.3" r="2.10"/>
<circle cx="549.9" cy="457.1" r="2.10"/>
<circle cx="1026.5" cy="457.1" r="2.10"/>
<circle cx="556.6" cy="454.9" r="2.10"/>
<circle cx="1033.2" cy="454.9" r="2.10"/>
<circle cx="542.9" cy="458.7" r="2.10"/>
<circle cx="1019.5" cy="458.7" r="2.10"/>
<circle cx="548.6" cy="371.3" r="2.10"/>
<circle cx="1025.2" cy="371.3" r="2.10"/>
<circle cx="549.9" cy="374.7" r="2.10"/>
<circle cx="1026.5" cy="374.7" r="2.10"/>
<circle cx="561.3" cy="370.7" r="2.10"/>
<circle cx="1037.9" cy="370.7" r="2.10"/>
<circle cx="566.0" cy="370.7" r="2.10"/>
<circle cx="1042.6" cy="370.7" r="2.10"/>
<circle cx="570.1" cy="372.0" r="2.10"/>
<circle cx="1046.7" cy="372.0" r="2.10"/>
<circle cx="567.4" cy="376.0" r="2.10"/>
<circle cx="1044.0" cy="376.0" r="2.10"/>
<circle cx="569.4" cy="380.7" r="2.10"/>
<circle cx="1046.0" cy="380.7" r="2.10"/>
<circle cx="560.7" cy="382.4" r="2.10"/>
<circle cx="1037.3" cy="382.4" r="2.10"/>
<circle cx="565.8" cy="383.7" r="2.10"/>
<circle cx="1042.4" cy="383.7" r="2.10"/>
<circle cx="564.7" cy="388.8" r="2.10"/>
<circle cx="1041.3" cy="388.8" r="2.10"/>
<circle cx="561.3" cy="390.8" r="2.10"/>
<circle cx="1037.9" cy="390.8" r="2.10"/>
<circle cx="562.7" cy="392.8" r="2.10"/>
<circle cx="1039.3" cy="392.8" r="2.10"/>
<circle cx="560.7" cy="395.5" r="2.10"/>
<circle cx="1037.3" cy="395.5" r="2.10"/>
<circle cx="559.3" cy="396.9" r="2.10"/>
<circle cx="1035.9" cy="396.9" r="2.10"/>
<circle cx="559.3" cy="403.6" r="2.10"/>
<circle cx="1035.9" cy="403.6" r="2.10"/>
<circle cx="558.7" cy="406.3" r="2.10"/>
<circle cx="1035.2" cy="406.3" r="2.10"/>
<circle cx="558.0" cy="420.4" r="2.10"/>
<circle cx="1034.6" cy="420.4" r="2.10"/>
<circle cx="558.3" cy="422.7" r="2.10"/>
<circle cx="1034.8" cy="422.7" r="2.10"/>
<circle cx="557.3" cy="434.2" r="2.10"/>
<circle cx="1033.9" cy="434.2" r="2.10"/>
<circle cx="557.7" cy="438.8" r="2.10"/>
<circle cx="1034.3" cy="438.8" r="2.10"/>
<circle cx="590.2" cy="371.6" r="2.10"/>
<circle cx="1066.8" cy="371.6" r="2.10"/>
<circle cx="604.3" cy="374.7" r="2.10"/>
<circle cx="1080.9" cy="374.7" r="2.10"/>
<circle cx="591.3" cy="386.8" r="2.10"/>
<circle cx="1067.9" cy="386.8" r="2.10"/>
<circle cx="603.4" cy="386.5" r="2.10"/>
<circle cx="1080.0" cy="386.5" r="2.10"/>
<circle cx="602.3" cy="391.2" r="2.10"/>
<circle cx="1078.9" cy="391.2" r="2.10"/>
<circle cx="601.8" cy="396.6" r="2.10"/>
<circle cx="1078.4" cy="396.6" r="2.10"/>
<circle cx="601.0" cy="404.0" r="2.10"/>
<circle cx="1077.6" cy="404.0" r="2.10"/>
<circle cx="591.8" cy="399.3" r="2.10"/>
<circle cx="1068.4" cy="399.3" r="2.10"/>
<circle cx="592.9" cy="402.9" r="2.10"/>
<circle cx="1069.5" cy="402.9" r="2.10"/>
<circle cx="594.3" cy="406.9" r="2.10"/>
<circle cx="1070.8" cy="406.9" r="2.10"/>
<circle cx="595.3" cy="410.6" r="2.10"/>
<circle cx="1071.9" cy="410.6" r="2.10"/>
<circle cx="600.3" cy="414.7" r="2.10"/>
<circle cx="1076.9" cy="414.7" r="2.10"/>
<circle cx="595.6" cy="421.0" r="2.10"/>
<circle cx="1072.2" cy="421.0" r="2.10"/>
<circle cx="599.6" cy="423.5" r="2.10"/>
<circle cx="1076.2" cy="423.5" r="2.10"/>
<circle cx="596.9" cy="427.1" r="2.10"/>
<circle cx="1073.5" cy="427.1" r="2.10"/>
<circle cx="598.3" cy="429.8" r="2.10"/>
<circle cx="1074.9" cy="429.8" r="2.10"/>
<circle cx="597.6" cy="432.5" r="2.10"/>
<circle cx="1074.2" cy="432.5" r="2.10"/>
<circle cx="625.8" cy="370.7" r="2.10"/>
<circle cx="1102.4" cy="370.7" r="2.10"/>
<circle cx="628.5" cy="376.0" r="2.10"/>
<circle cx="1105.1" cy="376.0" r="2.10"/>
<circle cx="627.2" cy="380.1" r="2.10"/>
<circle cx="1103.8" cy="380.1" r="2.10"/>
<circle cx="646.7" cy="371.6" r="2.10"/>
<circle cx="1123.2" cy="371.6" r="2.10"/>
<circle cx="649.3" cy="370.7" r="2.10"/>
<circle cx="1125.9" cy="370.7" r="2.10"/>
<circle cx="666.1" cy="374.0" r="2.10"/>
<circle cx="1142.7" cy="374.0" r="2.10"/>
<circle cx="667.5" cy="371.3" r="2.10"/>
<circle cx="1144.1" cy="371.3" r="2.10"/>
<circle cx="269.6" cy="461.6" r="2.10"/>
<circle cx="746.1" cy="461.6" r="2.10"/>
<circle cx="270.5" cy="469.0" r="2.10"/>
<circle cx="747.1" cy="469.0" r="2.10"/>
<circle cx="265.5" cy="472.4" r="2.10"/>
<circle cx="742.1" cy="472.4" r="2.10"/>
<circle cx="272.2" cy="473.4" r="2.10"/>
<circle cx="748.8" cy="473.4" r="2.10"/>
<circle cx="270.2" cy="475.4" r="2.10"/>
<circle cx="746.8" cy="475.4" r="2.10"/>
<circle cx="271.2" cy="478.8" r="2.10"/>
<circle cx="747.8" cy="478.8" r="2.10"/>
<circle cx="269.6" cy="484.2" r="2.10"/>
<circle cx="746.1" cy="484.2" r="2.10"/>
<circle cx="268.6" cy="486.6" r="2.10"/>
<circle cx="745.2" cy="486.6" r="2.10"/>
<circle cx="266.2" cy="490.6" r="2.10"/>
<circle cx="742.8" cy="490.6" r="2.10"/>
<circle cx="266.9" cy="499.0" r="2.10"/>
<circle cx="743.5" cy="499.0" r="2.10"/>
<circle cx="267.9" cy="502.7" r="2.10"/>
<circle cx="744.5" cy="502.7" r="2.10"/>
<circle cx="300.2" cy="463.4" r="2.10"/>
<circle cx="776.8" cy="463.4" r="2.10"/>
<circle cx="293.7" cy="469.0" r="2.10"/>
<circle cx="770.3" cy="469.0" r="2.10"/>
<circle cx="298.4" cy="472.4" r="2.10"/>
<circle cx="775.0" cy="472.4" r="2.10"/>
<circle cx="297.8" cy="477.7" r="2.10"/>
<circle cx="774.4" cy="477.7" r="2.10"/>
<circle cx="294.4" cy="481.8" r="2.10"/>
<circle cx="771.0" cy="481.8" r="2.10"/>
<circle cx="295.5" cy="484.9" r="2.10"/>
<circle cx="772.1" cy="484.9" r="2.10"/>
<circle cx="297.1" cy="486.6" r="2.10"/>
<circle cx="773.7" cy="486.6" r="2.10"/>
<circle cx="296.0" cy="496.9" r="2.10"/>
<circle cx="772.6" cy="496.9" r="2.10"/>
<circle cx="339.8" cy="460.7" r="2.10"/>
<circle cx="816.4" cy="460.7" r="2.10"/>
<circle cx="340.8" cy="466.7" r="2.10"/>
<circle cx="817.3" cy="466.7" r="2.10"/>
<circle cx="341.4" cy="477.7" r="2.10"/>
<circle cx="818.0" cy="477.7" r="2.10"/>
<circle cx="342.1" cy="494.9" r="2.10"/>
<circle cx="818.7" cy="494.9" r="2.10"/>
<circle cx="342.8" cy="515.3" r="2.10"/>
<circle cx="819.4" cy="515.3" r="2.10"/>
<circle cx="343.7" cy="529.5" r="2.10"/>
<circle cx="820.3" cy="529.5" r="2.10"/>
<circle cx="351.9" cy="528.5" r="2.10"/>
<circle cx="828.5" cy="528.5" r="2.10"/>
<circle cx="350.8" cy="533.9" r="2.10"/>
<circle cx="827.4" cy="533.9" r="2.10"/>
<circle cx="353.5" cy="521.8" r="2.10"/>
<circle cx="830.1" cy="521.8" r="2.10"/>
<circle cx="352.9" cy="523.8" r="2.10"/>
<circle cx="829.4" cy="523.8" r="2.10"/>
<circle cx="354.9" cy="519.1" r="2.10"/>
<circle cx="831.4" cy="519.1" r="2.10"/>
<circle cx="350.2" cy="548.7" r="2.10"/>
<circle cx="826.7" cy="548.7" r="2.10"/>
<circle cx="344.1" cy="549.7" r="2.10"/>
<circle cx="820.7" cy="549.7" r="2.10"/>
<circle cx="365.7" cy="466.7" r="2.10"/>
<circle cx="842.3" cy="466.7" r="2.10"/>
<circle cx="360.4" cy="477.5" r="2.10"/>
<circle cx="837.0" cy="477.5" r="2.10"/>
<circle cx="362.4" cy="477.5" r="2.10"/>
<circle cx="839.0" cy="477.5" r="2.10"/>
<circle cx="364.7" cy="480.8" r="2.10"/>
<circle cx="841.3" cy="480.8" r="2.10"/>
<circle cx="362.4" cy="483.9" r="2.10"/>
<circle cx="839.0" cy="483.9" r="2.10"/>
<circle cx="363.7" cy="485.5" r="2.10"/>
<circle cx="840.3" cy="485.5" r="2.10"/>
<circle cx="360.1" cy="493.9" r="2.10"/>
<circle cx="836.7" cy="493.9" r="2.10"/>
<circle cx="359.3" cy="513.3" r="2.10"/>
<circle cx="835.9" cy="513.3" r="2.10"/>
<circle cx="357.0" cy="516.4" r="2.10"/>
<circle cx="833.6" cy="516.4" r="2.10"/>
<circle cx="356.1" cy="519.8" r="2.10"/>
<circle cx="832.7" cy="519.8" r="2.10"/>
<circle cx="358.0" cy="526.5" r="2.10"/>
<circle cx="834.5" cy="526.5" r="2.10"/>
<circle cx="397.7" cy="465.6" r="2.10"/>
<circle cx="874.3" cy="465.6" r="2.10"/>
<circle cx="401.1" cy="464.0" r="2.10"/>
<circle cx="877.7" cy="464.0" r="2.10"/>
<circle cx="404.0" cy="466.7" r="2.10"/>
<circle cx="880.6" cy="466.7" r="2.10"/>
<circle cx="405.4" cy="469.1" r="2.10"/>
<circle cx="882.0" cy="469.1" r="2.10"/>
<circle cx="400.7" cy="472.1" r="2.10"/>
<circle cx="877.3" cy="472.1" r="2.10"/>
<circle cx="399.1" cy="475.4" r="2.10"/>
<circle cx="875.6" cy="475.4" r="2.10"/>
<circle cx="406.0" cy="460.7" r="2.10"/>
<circle cx="882.6" cy="460.7" r="2.10"/>
<circle cx="439.6" cy="464.7" r="2.10"/>
<circle cx="916.2" cy="464.7" r="2.10"/>
<circle cx="446.4" cy="460.7" r="2.10"/>
<circle cx="922.9" cy="460.7" r="2.10"/>
<circle cx="445.4" cy="471.0" r="2.10"/>
<circle cx="922.0" cy="471.0" r="2.10"/>
<circle cx="440.3" cy="478.8" r="2.10"/>
<circle cx="916.9" cy="478.8" r="2.10"/>
<circle cx="444.7" cy="477.7" r="2.10"/>
<circle cx="921.3" cy="477.7" r="2.10"/>
<circle cx="441.0" cy="489.3" r="2.10"/>
<circle cx="917.6" cy="489.3" r="2.10"/>
<circle cx="443.7" cy="491.2" r="2.10"/>
<circle cx="920.2" cy="491.2" r="2.10"/>
<circle cx="443.0" cy="492.2" r="2.10"/>
<circle cx="919.6" cy="492.2" r="2.10"/>
<circle cx="442.1" cy="500.3" r="2.10"/>
<circle cx="918.6" cy="500.3" r="2.10"/>
<circle cx="527.1" cy="460.7" r="2.10"/>
<circle cx="1003.7" cy="460.7" r="2.10"/>
<circle cx="539.9" cy="462.4" r="2.10"/>
<circle cx="1016.4" cy="462.4" r="2.10"/>
<circle cx="543.2" cy="460.7" r="2.10"/>
<circle cx="1019.8" cy="460.7" r="2.10"/>
<circle cx="548.6" cy="462.0" r="2.10"/>
<circle cx="1025.2" cy="462.0" r="2.10"/>
<circle cx="550.6" cy="464.7" r="2.10"/>
<circle cx="1027.2" cy="464.7" r="2.10"/>
<circle cx="549.3" cy="466.0" r="2.10"/>
<circle cx="1025.8" cy="466.0" r="2.10"/>
<circle cx="556.6" cy="464.7" r="2.10"/>
<circle cx="1033.2" cy="464.7" r="2.10"/>
<circle cx="555.3" cy="468.7" r="2.10"/>
<circle cx="1031.9" cy="468.7" r="2.10"/>
<circle cx="554.0" cy="470.7" r="2.10"/>
<circle cx="1030.5" cy="470.7" r="2.10"/>
<circle cx="552.6" cy="472.8" r="2.10"/>
<circle cx="1029.2" cy="472.8" r="2.10"/>
<circle cx="551.3" cy="474.8" r="2.10"/>
<circle cx="1027.9" cy="474.8" r="2.10"/>
<circle cx="540.5" cy="466.7" r="2.10"/>
<circle cx="1017.1" cy="466.7" r="2.10"/>
<circle cx="543.9" cy="466.7" r="2.10"/>
<circle cx="1020.5" cy="466.7" r="2.10"/>
<circle cx="534.9" cy="469.0" r="2.10"/>
<circle cx="1011.5" cy="469.0" r="2.10"/>
<circle cx="526.2" cy="472.4" r="2.10"/>
<circle cx="1002.7" cy="472.4" r="2.10"/>
<circle cx="535.8" cy="475.4" r="2.10"/>
<circle cx="1012.4" cy="475.4" r="2.10"/>
<circle cx="541.9" cy="474.1" r="2.10"/>
<circle cx="1018.4" cy="474.1" r="2.10"/>
<circle cx="545.2" cy="474.8" r="2.10"/>
<circle cx="1021.8" cy="474.8" r="2.10"/>
<circle cx="547.9" cy="476.1" r="2.10"/>
<circle cx="1024.5" cy="476.1" r="2.10"/>
<circle cx="541.2" cy="478.8" r="2.10"/>
<circle cx="1017.8" cy="478.8" r="2.10"/>
<circle cx="548.6" cy="479.9" r="2.10"/>
<circle cx="1025.2" cy="479.9" r="2.10"/>
<circle cx="551.9" cy="480.8" r="2.10"/>
<circle cx="1028.5" cy="480.8" r="2.10"/>
<circle cx="556.0" cy="478.8" r="2.10"/>
<circle cx="1032.6" cy="478.8" r="2.10"/>
<circle cx="523.1" cy="484.9" r="2.10"/>
<circle cx="999.6" cy="484.9" r="2.10"/>
<circle cx="536.8" cy="486.2" r="2.10"/>
<circle cx="1013.3" cy="486.2" r="2.10"/>
<circle cx="554.6" cy="484.9" r="2.10"/>
<circle cx="1031.2" cy="484.9" r="2.10"/>
<circle cx="552.6" cy="486.9" r="2.10"/>
<circle cx="1029.2" cy="486.9" r="2.10"/>
<circle cx="545.2" cy="491.6" r="2.10"/>
<circle cx="1021.8" cy="491.6" r="2.10"/>
<circle cx="554.2" cy="492.6" r="2.10"/>
<circle cx="1030.8" cy="492.6" r="2.10"/>
<circle cx="537.2" cy="499.0" r="2.10"/>
<circle cx="1013.7" cy="499.0" r="2.10"/>
<circle cx="539.9" cy="501.6" r="2.10"/>
<circle cx="1016.4" cy="501.6" r="2.10"/>
<circle cx="543.2" cy="504.3" r="2.10"/>
<circle cx="1019.8" cy="504.3" r="2.10"/>
<circle cx="547.2" cy="499.6" r="2.10"/>
<circle cx="1023.8" cy="499.6" r="2.10"/>
<circle cx="546.6" cy="505.0" r="2.10"/>
<circle cx="1023.2" cy="505.0" r="2.10"/>
<circle cx="541.9" cy="507.0" r="2.10"/>
<circle cx="1018.4" cy="507.0" r="2.10"/>
<circle cx="540.5" cy="508.4" r="2.10"/>
<circle cx="1017.1" cy="508.4" r="2.10"/>
<circle cx="544.6" cy="506.3" r="2.10"/>
<circle cx="1021.1" cy="506.3" r="2.10"/>
<circle cx="344.5" cy="551.3" r="2.10"/>
<circle cx="821.1" cy="551.3" r="2.10"/>
<circle cx="350.2" cy="548.9" r="2.10"/>
<circle cx="826.7" cy="548.9" r="2.10"/>
<circle cx="349.5" cy="561.0" r="2.10"/>
<circle cx="826.1" cy="561.0" r="2.10"/>
<circle cx="348.8" cy="568.4" r="2.10"/>
<circle cx="825.4" cy="568.4" r="2.10"/>
<circle cx="345.5" cy="569.7" r="2.10"/>
<circle cx="822.0" cy="569.7" r="2.10"/>
<circle cx="347.5" cy="571.7" r="2.10"/>
<circle cx="824.1" cy="571.7" r="2.10"/>
<circle cx="346.5" cy="576.2" r="2.10"/>
<circle cx="823.1" cy="576.2" r="2.10"/>
<circle cx="673.3" cy="235.0" r="2.10"/>
<circle cx="1149.9" cy="235.0" r="2.10"/>
<circle cx="674.5" cy="224.3" r="2.10"/>
<circle cx="1151.1" cy="224.3" r="2.10"/>
<circle cx="638.6" cy="178.6" r="2.10"/>
<circle cx="1115.2" cy="178.6" r="2.10"/>
<circle cx="637.6" cy="181.6" r="2.10"/>
<circle cx="1114.2" cy="181.6" r="2.10"/>
<circle cx="647.9" cy="304.9" r="2.10"/>
<circle cx="1124.5" cy="304.9" r="2.10"/>
<circle cx="649.8" cy="304.6" r="2.10"/>
<circle cx="1126.4" cy="304.6" r="2.10"/>
<circle cx="651.6" cy="306.0" r="2.10"/>
<circle cx="1128.2" cy="306.0" r="2.10"/>
<circle cx="649.4" cy="306.8" r="2.10"/>
<circle cx="1126.0" cy="306.8" r="2.10"/>
<circle cx="674.8" cy="314.6" r="2.10"/>
<circle cx="1151.4" cy="314.6" r="2.10"/>
<circle cx="673.3" cy="319.9" r="2.10"/>
<circle cx="1149.9" cy="319.9" r="2.10"/>
<circle cx="672.5" cy="324.3" r="2.10"/>
<circle cx="1149.1" cy="324.3" r="2.10"/>
</g>
<polyline points="198.6,307.6 201.0,308.7 203.4,309.7 205.7,310.8 208.1,312.0 210.5,313.1 212.9,314.3 215.3,315.6 217.7,316.8 220.0,318.1 222.4,319.4 224.8,320.7 227.2,322.0 229.6,323.4 232.0,324.7 234.3,326.1 236.7,327.5 239.1,328.9 241.5,330.4 243.9,331.8 246.3,333.3 248.6,334.7 251.0,336.2 253.4,337.7 255.8,339.2 258.2,340.6 260.6,342.1 262.9,343.6 265.3,345.1 267.7,346.6 270.1,348.0 272.5,349.5 274.9,350.9 277.2,352.4 279.6,353.8 282.0,355.3 284.4,356.7 286.8,358.1 289.2,359.4 291.5,360.8 293.9,362.2 296.3,363.5 298.7,364.8 301.1,366.1 303.4,367.3 305.8,368.6 308.2,369.8 310.6,370.9 313.0,372.1 315.4,373.2 317.7,374.3 320.1,375.3 322.5,376.4 324.9,377.4 327.3,378.3 329.7,379.2 332.0,380.1 334.4,381.0 336.8,381.8 339.2,382.5 341.6,383.2 344.0,383.9 346.3,384.6 348.7,385.2 351.1,385.7 353.5,386.2 355.9,386.7 358.3,387.1 360.6,387.5 363.0,387.8 365.4,388.1 367.8,388.4 370.2,388.6 372.6,388.7 374.9,388.8 377.3,388.9 379.7,388.9 382.1,388.9 384.5,388.8 386.8,388.7 389.2,388.5 391.6,388.3 394.0,388.0 396.4,387.7 398.8,387.3 401.1,386.9 403.5,386.5 405.9,386.0 408.3,385.5 410.7,384.9 413.1,384.3 415.4,383.6 417.8,382.9 420.2,382.1 422.6,381.4 425.0,380.5 427.4,379.7 429.7,378.8 432.1,377.8 434.5,376.9 436.9,375.9 439.3,374.8 441.7,373.8 444.0,372.7 446.4,371.5 448.8,370.4 451.2,369.2 453.6,367.9 456.0,366.7 458.3,365.4 460.7,364.1 463.1,362.8 465.5,361.5 467.9,360.1 470.3,358.8 472.6,357.4 475.0,356.0 477.4,354.6 479.8,353.1 482.2,351.7 484.5,350.2 486.9,348.8 489.3,347.3 491.7,345.8 494.1,344.3 496.5,342.9 498.8,341.4 501.2,339.9 503.6,338.4 506.0,336.9 508.4,335.5 510.8,334.0 513.1,332.6 515.5,331.1 517.9,329.7 520.3,328.2 522.7,326.8 525.1,325.4 527.4,324.1 529.8,322.7 532.2,321.3 534.6,320.0 537.0,318.7 539.4,317.4 541.7,316.2 544.1,314.9 546.5,313.7 548.9,312.6 551.3,311.4 553.7,310.3 556.0,309.2 558.4,308.2 560.8,307.1 563.2,306.1 565.6,305.2 567.9,304.3 570.3,303.4 572.7,302.5 575.1,301.7 577.5,301.0 579.9,300.3 582.2,299.6 584.6,298.9 587.0,298.3 589.4,297.8 591.8,297.3 594.2,296.8 596.5,296.4 598.9,296.0 601.3,295.7 603.7,295.4 606.1,295.1 608.5,294.9 610.8,294.8 613.2,294.7 615.6,294.6 618.0,294.6 620.4,294.6 622.8,294.7 625.1,294.8 627.5,295.0 629.9,295.2 632.3,295.5 634.7,295.8 637.1,296.2 639.4,296.6 641.8,297.0 644.2,297.5 646.6,298.0 649.0,298.6 651.4,299.2 653.7,299.9 656.1,300.6 658.5,301.4 660.9,302.1 663.3,303.0 665.6,303.8 668.0,304.7 670.4,305.7 672.8,306.6 675.2,307.6 677.6,308.7 679.9,309.7 682.3,310.8 684.7,312.0 687.1,313.1 689.5,314.3 691.9,315.6 694.2,316.8 696.6,318.1 699.0,319.4 701.4,320.7 703.8,322.0 706.2,323.4 708.5,324.7 710.9,326.1 713.3,327.5 715.7,328.9 718.1,330.4 720.5,331.8 722.8,333.3 725.2,334.7 727.6,336.2 730.0,337.7 732.4,339.2 734.8,340.6 737.1,342.1 739.5,343.6 741.9,345.1 744.3,346.6 746.7,348.0 749.0,349.5 751.4,350.9 753.8,352.4 756.2,353.8 758.6,355.3 761.0,356.7 763.3,358.1 765.7,359.4 768.1,360.8 770.5,362.2 772.9,363.5 775.3,364.8 777.6,366.1 780.0,367.3 782.4,368.6 784.8,369.8 787.2,370.9 789.6,372.1 791.9,373.2 794.3,374.3 796.7,375.3 799.1,376.4 801.5,377.4 803.9,378.3 806.2,379.2 808.6,380.1 811.0,381.0 813.4,381.8 815.8,382.5 818.2,383.2 820.5,383.9 822.9,384.6 825.3,385.2 827.7,385.7 830.1,386.2 832.5,386.7 834.8,387.1 837.2,387.5 839.6,387.8 842.0,388.1 844.4,388.4 846.7,388.6 849.1,388.7 851.5,388.8 853.9,388.9 856.3,388.9 858.7,388.9 861.0,388.8 863.4,388.7 865.8,388.5 868.2,388.3 870.6,388.0 873.0,387.7 875.3,387.3 877.7,386.9 880.1,386.5 882.5,386.0 884.9,385.5 887.3,384.9 889.6,384.3 892.0,383.6 894.4,382.9 896.8,382.1 899.2,381.4 901.6,380.5 903.9,379.7 906.3,378.8 908.7,377.8 911.1,376.9 913.5,375.9 915.9,374.8 918.2,373.8 920.6,372.7 923.0,371.5 925.4,370.4 927.8,369.2 930.2,367.9 932.5,366.7 934.9,365.4 937.3,364.1 939.7,362.8 942.1,361.5 944.4,360.1 946.8,358.8 949.2,357.4 951.6,356.0 954.0,354.6 956.4,353.1 958.7,351.7 961.1,350.2 963.5,348.8 965.9,347.3 968.3,345.8 970.7,344.3 973.0,342.9 975.4,341.4 977.8,339.9 980.2,338.4 982.6,336.9 985.0,335.5 987.3,334.0 989.7,332.6 992.1,331.1 994.5,329.7 996.9,328.2 999.3,326.8 1001.6,325.4 1004.0,324.1 1006.4,322.7 1008.8,321.3 1011.2,320.0 1013.6,318.7 1015.9,317.4 1018.3,316.2 1020.7,314.9 1023.1,313.7 1025.5,312.6 1027.8,311.4 1030.2,310.3 1032.6,309.2 1035.0,308.2 1037.4,307.1 1039.8,306.1 1042.1,305.2 1044.5,304.3 1046.9,303.4 1049.3,302.5 1051.7,301.7 1054.1,301.0 1056.4,300.3 1058.8,299.6 1061.2,298.9 1063.6,298.3 1066.0,297.8 1068.4,297.3 1070.7,296.8 1073.1,296.4 1075.5,296.0 1077.9,295.7 1080.3,295.4 1082.7,295.1 1085.0,294.9 1087.4,294.8 1089.8,294.7 1092.2,294.6 1094.6,294.6 1097.0,294.6 1099.3,294.7 1101.7,294.8 1104.1,295.0 1106.5,295.2 1108.9,295.5 1111.3,295.8 1113.6,296.2 1116.0,296.6 1118.4,297.0 1120.8,297.5 1123.2,298.0 1125.5,298.6 1127.9,299.2 1130.3,299.9 1132.7,300.6 1135.1,301.4 1137.5,302.1 1139.8,303.0 1142.2,303.8 1144.6,304.7 1147.0,305.7 1149.4,306.6 1151.8,307.6" fill="none" stroke="#ff0000" stroke-width="4.6" stroke-linejoin="round" stroke-linecap="round"/>
<rect x="151.1" y="1.1" width="1047.5" height="591.8" fill="none" stroke="#000" stroke-width="1.7"/>
<g stroke="#000" stroke-width="1.5">
<line x1="198.6" y1="593" x2="198.6" y2="599.6"/>
<line x1="317.7" y1="593" x2="317.7" y2="599.6"/>
<line x1="436.9" y1="593" x2="436.9" y2="599.6"/>
<line x1="556.0" y1="593" x2="556.0" y2="599.6"/>
<line x1="675.2" y1="593" x2="675.2" y2="599.6"/>
<line x1="794.3" y1="593" x2="794.3" y2="599.6"/>
<line x1="913.5" y1="593" x2="913.5" y2="599.6"/>
<line x1="1032.6" y1="593" x2="1032.6" y2="599.6"/>
<line x1="1151.8" y1="593" x2="1151.8" y2="599.6"/>
<line x1="144.3" y1="101.62" x2="151" y2="101.62"/>
<line x1="144.3" y1="220.09" x2="151" y2="220.09"/>
<line x1="144.3" y1="338.55" x2="151" y2="338.55"/>
<line x1="144.3" y1="457.01" x2="151" y2="457.01"/>
<line x1="144.3" y1="575.48" x2="151" y2="575.48"/>
</g>
<g font-family="DejaVu Sans, Liberation Sans, sans-serif" font-size="32.4" fill="#000">
<text x="198.6" y="631" text-anchor="middle">0.00</text>
<text x="317.7" y="631" text-anchor="middle">0.25</text>
<text x="436.9" y="631" text-anchor="middle">0.50</text>
<text x="556.0" y="631" text-anchor="middle">0.75</text>
<text x="675.2" y="631" text-anchor="middle">1.00</text>
<text x="794.3" y="631" text-anchor="middle">1.25</text>
<text x="913.5" y="631" text-anchor="middle">1.50</text>
<text x="1032.6" y="631" text-anchor="middle">1.75</text>
<text x="1151.8" y="631" text-anchor="middle">2.00</text>
<text x="138.8" y="114.32" text-anchor="end">−0.04</text>
<text x="138.8" y="232.78" text-anchor="end">−0.02</text>
<text x="138.8" y="351.25" text-anchor="end">0.00</text>
<text x="138.8" y="469.71" text-anchor="end">0.02</text>
<text x="138.8" y="588.18" text-anchor="end">0.04</text>
<text x="169.0" y="51.2" font-size="30.6">P=24.85 d</text>
</g>
<g font-family="DejaVu Serif, Liberation Serif, serif" font-size="32.4" fill="#000">
<text x="675" y="669.5" text-anchor="middle">Phase</text>
<text transform="translate(26 297.4) rotate(-90)" text-anchor="middle">Δ magnitude [mag]</text>
</g>
</svg>
</body></html>
